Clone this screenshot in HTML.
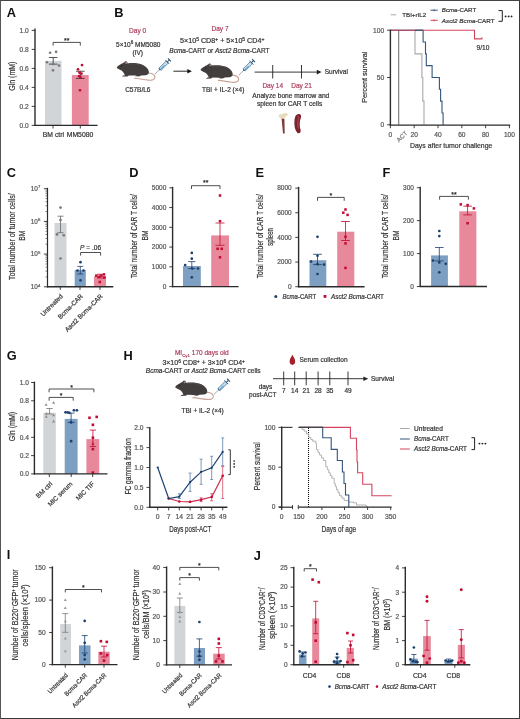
<!DOCTYPE html>
<html><head><meta charset="utf-8"><style>
html,body{margin:0;padding:0;background:#fff;}
#fig{position:relative;width:520px;height:719px;box-sizing:border-box;border:1px solid #3a3a3a;border-left-color:#555;border-top-color:#444;background:#fff;overflow:hidden;}
#fig svg{position:absolute;left:-1px;top:-1px;will-change:transform;}
text{font-family:"Liberation Sans",sans-serif;}
</style></head><body><div id="fig">
<svg width="520" height="719" viewBox="0 0 520 719">
<text transform="translate(6.80,16.80)" font-size="12.8" text-anchor="start" fill="#111" font-weight="bold">A</text>
<rect x="45.00" y="60.80" width="16.50" height="64.60" fill="#d2d5d8"/>
<rect x="71.90" y="75.05" width="16.80" height="50.35" fill="#e8899b"/>
<line x1="53.20" y1="57.48" x2="53.20" y2="64.12" stroke="#2b2b2b" stroke-width="0.8"/>
<line x1="48.90" y1="57.48" x2="57.50" y2="57.48" stroke="#2b2b2b" stroke-width="0.8"/>
<line x1="48.90" y1="64.12" x2="57.50" y2="64.12" stroke="#2b2b2b" stroke-width="0.8"/>
<line x1="80.30" y1="71.25" x2="80.30" y2="78.38" stroke="#2b2b2b" stroke-width="0.8"/>
<line x1="76.00" y1="71.25" x2="84.60" y2="71.25" stroke="#2b2b2b" stroke-width="0.8"/>
<line x1="76.00" y1="78.38" x2="84.60" y2="78.38" stroke="#2b2b2b" stroke-width="0.8"/>
<circle cx="50.10" cy="52.73" r="1.35" fill="#7a7a7a"/>
<circle cx="56.10" cy="51.78" r="1.35" fill="#7a7a7a"/>
<circle cx="47.00" cy="62.23" r="1.35" fill="#7a7a7a"/>
<circle cx="53.00" cy="64.12" r="1.35" fill="#7a7a7a"/>
<circle cx="59.00" cy="65.55" r="1.35" fill="#7a7a7a"/>
<circle cx="53.00" cy="70.30" r="1.35" fill="#7a7a7a"/>
<circle cx="82.00" cy="65.08" r="1.35" fill="#c20a32"/>
<circle cx="78.00" cy="69.35" r="1.35" fill="#c20a32"/>
<circle cx="79.50" cy="72.68" r="1.35" fill="#c20a32"/>
<circle cx="81.50" cy="73.62" r="1.35" fill="#c20a32"/>
<circle cx="79.00" cy="76.00" r="1.35" fill="#c20a32"/>
<circle cx="80.50" cy="77.43" r="1.35" fill="#c20a32"/>
<circle cx="80.00" cy="90.25" r="1.35" fill="#c20a32"/>
<line x1="35.00" y1="28.40" x2="35.00" y2="126.00" stroke="#2b2b2b" stroke-width="1.4"/>
<line x1="31.70" y1="30.40" x2="35.00" y2="30.40" stroke="#2b2b2b" stroke-width="0.9"/>
<text transform="translate(28.70,32.78)" font-size="6.6" text-anchor="end" fill="#555" stroke="#555" stroke-width="0.2">1.0</text>
<line x1="31.70" y1="49.40" x2="35.00" y2="49.40" stroke="#2b2b2b" stroke-width="0.9"/>
<text transform="translate(28.70,51.78)" font-size="6.6" text-anchor="end" fill="#555" stroke="#555" stroke-width="0.2">0.8</text>
<line x1="31.70" y1="68.40" x2="35.00" y2="68.40" stroke="#2b2b2b" stroke-width="0.9"/>
<text transform="translate(28.70,70.78)" font-size="6.6" text-anchor="end" fill="#555" stroke="#555" stroke-width="0.2">0.6</text>
<line x1="31.70" y1="87.40" x2="35.00" y2="87.40" stroke="#2b2b2b" stroke-width="0.9"/>
<text transform="translate(28.70,89.78)" font-size="6.6" text-anchor="end" fill="#555" stroke="#555" stroke-width="0.2">0.4</text>
<line x1="31.70" y1="106.40" x2="35.00" y2="106.40" stroke="#2b2b2b" stroke-width="0.9"/>
<text transform="translate(28.70,108.78)" font-size="6.6" text-anchor="end" fill="#555" stroke="#555" stroke-width="0.2">0.2</text>
<line x1="31.70" y1="125.40" x2="35.00" y2="125.40" stroke="#2b2b2b" stroke-width="0.9"/>
<text transform="translate(28.70,127.78)" font-size="6.6" text-anchor="end" fill="#555" stroke="#555" stroke-width="0.2">0.0</text>
<line x1="34.40" y1="125.40" x2="97.60" y2="125.40" stroke="#2b2b2b" stroke-width="1.4"/>
<line x1="53.00" y1="125.40" x2="53.00" y2="128.50" stroke="#2b2b2b" stroke-width="0.9"/>
<line x1="80.30" y1="125.40" x2="80.30" y2="128.50" stroke="#2b2b2b" stroke-width="0.9"/>
<path d="M53.10,45.60 L53.10,42.40 L80.30,42.40 L80.30,45.60" fill="none" stroke="#222" stroke-width="0.8"/>
<text transform="translate(66.70,42.99)" font-size="7" text-anchor="middle" fill="#222" stroke="#222" stroke-width="0.2">**</text>
<text transform="translate(14.77,76.20) rotate(-90)" font-size="8.4" text-anchor="middle" fill="#333" stroke="#333" stroke-width="0.2" textLength="29.3" lengthAdjust="spacingAndGlyphs">Gln (mM)</text>
<text transform="translate(53.40,137.15)" font-size="6.8" text-anchor="middle" fill="#333" stroke="#333" stroke-width="0.2">BM ctrl</text>
<text transform="translate(80.00,137.15)" font-size="6.8" text-anchor="middle" fill="#333" stroke="#333" stroke-width="0.2">MM5080</text>
<text transform="translate(114.20,17.00)" font-size="12.8" text-anchor="start" fill="#111" font-weight="bold">B</text>
<text transform="translate(137.60,32.74)" font-size="6.5" text-anchor="middle" fill="#ad3f5e" stroke="#ad3f5e" stroke-width="0.2">Day 0</text>
<text transform="translate(138.20,46.64)" font-size="6.5" text-anchor="middle" fill="#333" stroke="#333" stroke-width="0.2">5×10<tspan dy="-2.6" font-size="4.6">6</tspan><tspan dy="2.6"> MM5080</tspan></text>
<text transform="translate(137.80,54.54)" font-size="6.5" text-anchor="middle" fill="#333" stroke="#333" stroke-width="0.2">(IV)</text>
<g transform="translate(114.00,58.00)">
<path d="M33.5,15.0 C37.5,15.1 40.7,16.6 40.9,19.3 C41.1,21.6 38,22.6 34,22.1 C30,21.7 25,20.7 20.5,20.3" fill="none" stroke="#c9a197" stroke-width="1.1" stroke-linecap="round"/>
<path d="M2.9,9.4 C3.5,8.2 5.5,6.8 8,5.6 L10.2,4.4 C10.8,3.2 12.6,2.9 13.2,4.0 L13.8,5.4 C18,4.8 25,5.0 29,7.0 C32.5,8.8 34.8,11.5 34.9,14.0 C35,16 33.5,17 31.5,17.2 L27,17.4 C26,18.2 24.5,18.6 22.5,18.3 L21.5,17.6 L15,17.4 C14.2,17.8 13.6,18.4 12.4,18.5 L9.0,18.6 C8.2,18.5 8.4,17.8 9.2,17.6 L11.0,17.2 C10.5,15.8 9.6,14.4 8.4,13.2 C6.8,12.2 4.8,11.2 3.6,10.6 C3.0,10.3 2.7,9.9 2.9,9.4 Z" fill="#433e3e"/>
<path d="M14.2,6.2 C19,5.6 25,5.8 28.6,7.6" fill="none" stroke="#5a5454" stroke-width="0.8" opacity="0.7"/>
<ellipse cx="12.3" cy="5.0" rx="1.0" ry="0.9" fill="#b09a9a" opacity="0.9"/>
<circle cx="7.4" cy="7.9" r="0.55" fill="#111"/>
<path d="M9.0,18.6 L8.0,18.7 M22.5,18.3 L21.4,18.6" stroke="#c9a197" stroke-width="0.7"/>
</g>
<g transform="translate(154.80,74.30) rotate(-44.5)">
<line x1="0" y1="0" x2="6.3" y2="0" stroke="#56708a" stroke-width="0.55"/>
<path d="M6.3,-0.6 L7.4,-1.7 L7.4,1.7 L6.3,0.6 Z" fill="#2a4a6a"/>
<rect x="7.4" y="-1.5" width="10" height="3.0" fill="#bfe0f2" stroke="#2b4d6e" stroke-width="0.55"/>
<rect x="7.65" y="-0.1" width="5.5" height="1.35" fill="#6aa6cf"/>
<line x1="17.6" y1="-2.7" x2="17.6" y2="2.7" stroke="#27496b" stroke-width="0.8"/>
<line x1="17.6" y1="0" x2="20.4" y2="0" stroke="#27496b" stroke-width="1.0"/>
<line x1="20.6" y1="-2.1" x2="20.6" y2="2.1" stroke="#27496b" stroke-width="1.0"/>
</g>
<text transform="translate(137.80,91.64)" font-size="6.5" text-anchor="middle" fill="#333" stroke="#333" stroke-width="0.2">C57B/L6</text>
<line x1="173.40" y1="71.20" x2="188.50" y2="71.20" stroke="#111" stroke-width="0.9"/>
<path d="M191.8,71.2 L187.4,69.0 L187.4,73.4 Z" fill="#111" stroke="none" stroke-width="1.0"/>
<text transform="translate(220.00,30.94)" font-size="6.5" text-anchor="middle" fill="#ad3f5e" stroke="#ad3f5e" stroke-width="0.2">Day 7</text>
<text transform="translate(222.20,43.44)" font-size="6.5" text-anchor="middle" fill="#333" stroke="#333" stroke-width="0.2" textLength="84.3" lengthAdjust="spacingAndGlyphs">5×10<tspan dy="-2.6" font-size="4.6">5</tspan><tspan dy="2.6"> CD8</tspan><tspan dy="-2.6" font-size="4.6">+</tspan><tspan dy="2.6"> + 5×10</tspan><tspan dy="-2.6" font-size="4.6">5</tspan><tspan dy="2.6"> CD4</tspan><tspan dy="-2.6" font-size="4.6">+</tspan><tspan dy="2.6"></tspan></text>
<text transform="translate(219.40,52.64)" font-size="6.5" text-anchor="middle" fill="#333" stroke="#333" stroke-width="0.2"><tspan font-style="italic">Bcma</tspan>-CART or <tspan font-style="italic">Asct2 Bcma</tspan>-CART</text>
<g transform="translate(197.80,60.10)">
<path d="M33.5,15.0 C37.5,15.1 40.7,16.6 40.9,19.3 C41.1,21.6 38,22.6 34,22.1 C30,21.7 25,20.7 20.5,20.3" fill="none" stroke="#c9a197" stroke-width="1.1" stroke-linecap="round"/>
<path d="M2.9,9.4 C3.5,8.2 5.5,6.8 8,5.6 L10.2,4.4 C10.8,3.2 12.6,2.9 13.2,4.0 L13.8,5.4 C18,4.8 25,5.0 29,7.0 C32.5,8.8 34.8,11.5 34.9,14.0 C35,16 33.5,17 31.5,17.2 L27,17.4 C26,18.2 24.5,18.6 22.5,18.3 L21.5,17.6 L15,17.4 C14.2,17.8 13.6,18.4 12.4,18.5 L9.0,18.6 C8.2,18.5 8.4,17.8 9.2,17.6 L11.0,17.2 C10.5,15.8 9.6,14.4 8.4,13.2 C6.8,12.2 4.8,11.2 3.6,10.6 C3.0,10.3 2.7,9.9 2.9,9.4 Z" fill="#433e3e"/>
<path d="M14.2,6.2 C19,5.6 25,5.8 28.6,7.6" fill="none" stroke="#5a5454" stroke-width="0.8" opacity="0.7"/>
<ellipse cx="12.3" cy="5.0" rx="1.0" ry="0.9" fill="#b09a9a" opacity="0.9"/>
<circle cx="7.4" cy="7.9" r="0.55" fill="#111"/>
<path d="M9.0,18.6 L8.0,18.7 M22.5,18.3 L21.4,18.6" stroke="#c9a197" stroke-width="0.7"/>
</g>
<g transform="translate(238.90,75.00) rotate(-44.5)">
<line x1="0" y1="0" x2="6.3" y2="0" stroke="#56708a" stroke-width="0.55"/>
<path d="M6.3,-0.6 L7.4,-1.7 L7.4,1.7 L6.3,0.6 Z" fill="#2a4a6a"/>
<rect x="7.4" y="-1.5" width="10" height="3.0" fill="#bfe0f2" stroke="#2b4d6e" stroke-width="0.55"/>
<rect x="7.65" y="-0.1" width="5.5" height="1.35" fill="#6aa6cf"/>
<line x1="17.6" y1="-2.7" x2="17.6" y2="2.7" stroke="#27496b" stroke-width="0.8"/>
<line x1="17.6" y1="0" x2="20.4" y2="0" stroke="#27496b" stroke-width="1.0"/>
<line x1="20.6" y1="-2.1" x2="20.6" y2="2.1" stroke="#27496b" stroke-width="1.0"/>
</g>
<text transform="translate(223.20,92.04)" font-size="6.5" text-anchor="middle" fill="#333" stroke="#333" stroke-width="0.2">TBI + IL-2 (×4)</text>
<line x1="254.60" y1="72.10" x2="318.00" y2="72.10" stroke="#222" stroke-width="0.9"/>
<path d="M321.5,72.1 L316.8,69.8 L316.8,74.4 Z" fill="#222" stroke="none" stroke-width="1.0"/>
<line x1="272.70" y1="65.00" x2="272.70" y2="78.50" stroke="#222" stroke-width="0.9"/>
<line x1="301.50" y1="65.00" x2="301.50" y2="78.50" stroke="#222" stroke-width="0.9"/>
<text transform="translate(336.30,74.34)" font-size="6.5" text-anchor="middle" fill="#333" stroke="#333" stroke-width="0.2">Survival</text>
<text transform="translate(272.70,87.94)" font-size="6.5" text-anchor="middle" fill="#ad3f5e" stroke="#ad3f5e" stroke-width="0.2">Day 14</text>
<text transform="translate(301.50,87.94)" font-size="6.5" text-anchor="middle" fill="#ad3f5e" stroke="#ad3f5e" stroke-width="0.2">Day 21</text>
<text transform="translate(290.80,97.94)" font-size="6.5" text-anchor="middle" fill="#333" stroke="#333" stroke-width="0.2" textLength="77" lengthAdjust="spacingAndGlyphs">Analyze bone marrow and</text>
<text transform="translate(289.60,106.24)" font-size="6.5" text-anchor="middle" fill="#333" stroke="#333" stroke-width="0.2" textLength="65.3" lengthAdjust="spacingAndGlyphs">spleen for CAR T cells</text>
<path d="M281.3,118.8 C280.0,117.8 278.3,117.0 278.8,115.4 C279.4,113.9 281.2,114.4 282.4,114.0 C283.8,113.0 285.8,112.6 287.3,113.4 C288.6,114.4 287.4,116.0 285.9,116.5 C284.9,117.2 284.5,118.4 284.3,119.6 Z" fill="#e8dcbc" stroke="none" stroke-width="1.0"/>
<path d="M281.6,118.4 L284.4,118.9 L284.7,133.4 L283.0,133.6 Z" fill="#7d3a38" stroke="none" stroke-width="1.0"/>
<path d="M297.6,114.2 C300.6,113.4 301.8,115.5 300.8,118.0 C299.4,121.5 299.4,126.0 300.6,130.0 C301.2,132.8 299.0,134.2 297.3,132.7 C295.0,130.3 294.2,126.0 294.4,121.5 C294.6,117.5 295.5,114.8 297.6,114.2 Z" fill="#7f2230" stroke="none" stroke-width="1.0"/>
<path d="M297.3,116.2 C298.6,115.8 299.0,117.2 298.4,118.7 C297.6,121.6 297.6,125.0 298.4,128.5" fill="none" stroke="#c0606e" stroke-width="0.7"/>
<polyline fill="none" stroke="#a9a9a9" stroke-width="1.1" stroke-linejoin="miter" points="390.40,30.20 415.00,30.20 415.00,53.85 421.90,53.85 421.90,77.50 422.80,77.50 422.80,101.15 424.00,101.15 424.00,124.80"/>
<polyline fill="none" stroke="#34557c" stroke-width="1.1" stroke-linejoin="miter" points="390.40,30.20 423.10,30.20 423.10,42.03 425.50,42.03 425.50,53.85 426.30,53.85 426.30,65.67 432.10,65.67 432.10,77.50 439.40,77.50 439.40,89.32 440.60,89.32 440.60,101.15 442.00,101.15 442.00,112.97 443.10,112.97 443.10,124.80"/>
<polyline fill="none" stroke="#d3455f" stroke-width="1.1" stroke-linejoin="miter" points="390.40,30.20 474.50,30.20 474.50,38.90 481.90,38.90 481.90,37.30"/>
<line x1="415.00" y1="30.20" x2="423.10" y2="30.20" stroke="#34557c" stroke-width="1.1"/>
<line x1="398.73" y1="30.20" x2="398.73" y2="124.80" stroke="#555" stroke-width="0.9"/>
<line x1="390.40" y1="29.60" x2="390.40" y2="125.40" stroke="#2b2b2b" stroke-width="1.4"/>
<line x1="387.10" y1="30.20" x2="390.40" y2="30.20" stroke="#2b2b2b" stroke-width="0.9"/>
<text transform="translate(384.10,32.58)" font-size="6.6" text-anchor="end" fill="#555" stroke="#555" stroke-width="0.2">100</text>
<line x1="387.10" y1="77.50" x2="390.40" y2="77.50" stroke="#2b2b2b" stroke-width="0.9"/>
<text transform="translate(384.10,79.88)" font-size="6.6" text-anchor="end" fill="#555" stroke="#555" stroke-width="0.2">50</text>
<line x1="387.10" y1="124.80" x2="390.40" y2="124.80" stroke="#2b2b2b" stroke-width="0.9"/>
<text transform="translate(384.10,127.18)" font-size="6.6" text-anchor="end" fill="#555" stroke="#555" stroke-width="0.2">0</text>
<line x1="389.80" y1="125.10" x2="510.20" y2="125.10" stroke="#2b2b2b" stroke-width="1.4"/>
<line x1="390.40" y1="125.10" x2="390.40" y2="128.20" stroke="#2b2b2b" stroke-width="0.9"/>
<line x1="414.20" y1="125.10" x2="414.20" y2="128.20" stroke="#2b2b2b" stroke-width="0.9"/>
<line x1="438.00" y1="125.10" x2="438.00" y2="128.20" stroke="#2b2b2b" stroke-width="0.9"/>
<line x1="461.80" y1="125.10" x2="461.80" y2="128.20" stroke="#2b2b2b" stroke-width="0.9"/>
<line x1="485.60" y1="125.10" x2="485.60" y2="128.20" stroke="#2b2b2b" stroke-width="0.9"/>
<line x1="509.40" y1="125.10" x2="509.40" y2="128.20" stroke="#2b2b2b" stroke-width="0.9"/>
<text transform="translate(390.40,137.18)" font-size="6.6" text-anchor="middle" fill="#555" stroke="#555" stroke-width="0.2">0</text>
<text transform="translate(414.20,137.18)" font-size="6.6" text-anchor="middle" fill="#555" stroke="#555" stroke-width="0.2">20</text>
<text transform="translate(438.00,137.18)" font-size="6.6" text-anchor="middle" fill="#555" stroke="#555" stroke-width="0.2">40</text>
<text transform="translate(461.80,137.18)" font-size="6.6" text-anchor="middle" fill="#555" stroke="#555" stroke-width="0.2">60</text>
<text transform="translate(485.60,137.18)" font-size="6.6" text-anchor="middle" fill="#555" stroke="#555" stroke-width="0.2">80</text>
<text transform="translate(509.40,137.18)" font-size="6.6" text-anchor="middle" fill="#555" stroke="#555" stroke-width="0.2">100</text>
<text transform="translate(403.50,138.00) rotate(-45)" font-size="6.2" text-anchor="middle" fill="#777" stroke="#777" stroke-width="0.2">ACT</text>
<text transform="translate(451.20,148.39)" font-size="7.2" text-anchor="middle" fill="#333" stroke="#333" stroke-width="0.2" textLength="82.3" lengthAdjust="spacingAndGlyphs">Days after tumor challenge</text>
<text transform="translate(366.89,77.30) rotate(-90)" font-size="7.2" text-anchor="middle" fill="#333" stroke="#333" stroke-width="0.2">Percent survival</text>
<text transform="translate(483.00,50.08)" font-size="6.6" text-anchor="middle" fill="#333" stroke="#333" stroke-width="0.2">9/10</text>
<line x1="390.80" y1="14.80" x2="396.20" y2="14.80" stroke="#a9a9a9" stroke-width="1.0"/>
<text transform="translate(414.20,17.03)" font-size="6.2" text-anchor="middle" fill="#333" stroke="#333" stroke-width="0.2">TBI+rIL2</text>
<line x1="430.50" y1="10.20" x2="437.80" y2="10.20" stroke="#34557c" stroke-width="1.0"/>
<line x1="434.10" y1="9.00" x2="434.10" y2="11.40" stroke="#34557c" stroke-width="0.7"/>
<text transform="translate(441.80,12.43)" font-size="6.2" text-anchor="start" fill="#333" stroke="#333" stroke-width="0.2" textLength="34.4" lengthAdjust="spacingAndGlyphs"><tspan font-style="italic">Bcma</tspan>-CART</text>
<line x1="430.50" y1="20.30" x2="437.80" y2="20.30" stroke="#d3455f" stroke-width="1.0"/>
<line x1="434.10" y1="19.10" x2="434.10" y2="21.50" stroke="#d3455f" stroke-width="0.7"/>
<text transform="translate(441.80,22.53)" font-size="6.2" text-anchor="start" fill="#333" stroke="#333" stroke-width="0.2" textLength="52.7" lengthAdjust="spacingAndGlyphs"><tspan font-style="italic">Asct2 Bcma</tspan>-CART</text>
<path d="M498.5,10.6 L502.3,10.6 L502.3,21.3 L498.5,21.3" fill="none" stroke="#222" stroke-width="1.0"/>
<circle cx="505.60" cy="16.40" r="0.95" fill="#222"/>
<circle cx="508.60" cy="16.40" r="0.95" fill="#222"/>
<circle cx="511.50" cy="16.40" r="0.95" fill="#222"/>
<text transform="translate(6.80,177.20)" font-size="12.8" text-anchor="start" fill="#111" font-weight="bold">C</text>
<rect x="54.50" y="223.00" width="12.00" height="63.80" fill="#d2d5d8"/>
<rect x="74.70" y="270.10" width="11.10" height="16.70" fill="#7c9fc2"/>
<rect x="94.00" y="276.00" width="12.00" height="10.80" fill="#e8899b"/>
<line x1="60.50" y1="216.20" x2="60.50" y2="232.70" stroke="#666" stroke-width="0.8"/>
<line x1="57.50" y1="216.20" x2="63.50" y2="216.20" stroke="#666" stroke-width="0.8"/>
<line x1="57.50" y1="232.70" x2="63.50" y2="232.70" stroke="#666" stroke-width="0.8"/>
<line x1="80.30" y1="266.40" x2="80.30" y2="274.00" stroke="#1d3f6e" stroke-width="0.8"/>
<line x1="77.30" y1="266.40" x2="83.30" y2="266.40" stroke="#1d3f6e" stroke-width="0.8"/>
<line x1="77.30" y1="274.00" x2="83.30" y2="274.00" stroke="#1d3f6e" stroke-width="0.8"/>
<line x1="100.00" y1="274.30" x2="100.00" y2="278.00" stroke="#c20a32" stroke-width="0.8"/>
<line x1="97.00" y1="274.30" x2="103.00" y2="274.30" stroke="#c20a32" stroke-width="0.8"/>
<line x1="97.00" y1="278.00" x2="103.00" y2="278.00" stroke="#c20a32" stroke-width="0.8"/>
<circle cx="60.50" cy="207.60" r="1.35" fill="#7a7a7a"/>
<circle cx="60.50" cy="220.10" r="1.35" fill="#7a7a7a"/>
<circle cx="57.00" cy="234.40" r="1.35" fill="#7a7a7a"/>
<circle cx="63.80" cy="235.30" r="1.35" fill="#7a7a7a"/>
<circle cx="60.50" cy="258.50" r="1.35" fill="#7a7a7a"/>
<circle cx="80.50" cy="262.20" r="1.35" fill="#1d3f6e"/>
<circle cx="77.50" cy="270.50" r="1.35" fill="#1d3f6e"/>
<circle cx="83.50" cy="270.50" r="1.35" fill="#1d3f6e"/>
<circle cx="80.50" cy="280.30" r="1.35" fill="#1d3f6e"/>
<rect x="95.05" y="274.35" width="2.5" height="2.5" fill="#c20a32"/>
<rect x="97.55" y="275.55" width="2.5" height="2.5" fill="#c20a32"/>
<rect x="100.15" y="274.35" width="2.5" height="2.5" fill="#c20a32"/>
<rect x="102.75" y="273.15" width="2.5" height="2.5" fill="#c20a32"/>
<rect x="103.05" y="276.35" width="2.5" height="2.5" fill="#c20a32"/>
<rect x="98.55" y="280.75" width="2.5" height="2.5" fill="#c20a32"/>
<line x1="47.50" y1="187.80" x2="47.50" y2="287.40" stroke="#2b2b2b" stroke-width="1.2"/>
<line x1="45.50" y1="276.96" x2="47.50" y2="276.96" stroke="#2b2b2b" stroke-width="0.6"/>
<line x1="45.50" y1="271.20" x2="47.50" y2="271.20" stroke="#2b2b2b" stroke-width="0.6"/>
<line x1="45.50" y1="267.11" x2="47.50" y2="267.11" stroke="#2b2b2b" stroke-width="0.6"/>
<line x1="45.50" y1="263.94" x2="47.50" y2="263.94" stroke="#2b2b2b" stroke-width="0.6"/>
<line x1="45.50" y1="261.35" x2="47.50" y2="261.35" stroke="#2b2b2b" stroke-width="0.6"/>
<line x1="45.50" y1="259.17" x2="47.50" y2="259.17" stroke="#2b2b2b" stroke-width="0.6"/>
<line x1="45.50" y1="257.27" x2="47.50" y2="257.27" stroke="#2b2b2b" stroke-width="0.6"/>
<line x1="45.50" y1="255.60" x2="47.50" y2="255.60" stroke="#2b2b2b" stroke-width="0.6"/>
<line x1="45.50" y1="244.26" x2="47.50" y2="244.26" stroke="#2b2b2b" stroke-width="0.6"/>
<line x1="45.50" y1="238.50" x2="47.50" y2="238.50" stroke="#2b2b2b" stroke-width="0.6"/>
<line x1="45.50" y1="234.41" x2="47.50" y2="234.41" stroke="#2b2b2b" stroke-width="0.6"/>
<line x1="45.50" y1="231.24" x2="47.50" y2="231.24" stroke="#2b2b2b" stroke-width="0.6"/>
<line x1="45.50" y1="228.65" x2="47.50" y2="228.65" stroke="#2b2b2b" stroke-width="0.6"/>
<line x1="45.50" y1="226.47" x2="47.50" y2="226.47" stroke="#2b2b2b" stroke-width="0.6"/>
<line x1="45.50" y1="224.57" x2="47.50" y2="224.57" stroke="#2b2b2b" stroke-width="0.6"/>
<line x1="45.50" y1="222.90" x2="47.50" y2="222.90" stroke="#2b2b2b" stroke-width="0.6"/>
<line x1="45.50" y1="211.56" x2="47.50" y2="211.56" stroke="#2b2b2b" stroke-width="0.6"/>
<line x1="45.50" y1="205.80" x2="47.50" y2="205.80" stroke="#2b2b2b" stroke-width="0.6"/>
<line x1="45.50" y1="201.71" x2="47.50" y2="201.71" stroke="#2b2b2b" stroke-width="0.6"/>
<line x1="45.50" y1="198.54" x2="47.50" y2="198.54" stroke="#2b2b2b" stroke-width="0.6"/>
<line x1="45.50" y1="195.95" x2="47.50" y2="195.95" stroke="#2b2b2b" stroke-width="0.6"/>
<line x1="45.50" y1="193.77" x2="47.50" y2="193.77" stroke="#2b2b2b" stroke-width="0.6"/>
<line x1="45.50" y1="191.87" x2="47.50" y2="191.87" stroke="#2b2b2b" stroke-width="0.6"/>
<line x1="45.50" y1="190.20" x2="47.50" y2="190.20" stroke="#2b2b2b" stroke-width="0.6"/>
<line x1="43.90" y1="286.80" x2="47.50" y2="286.80" stroke="#2b2b2b" stroke-width="0.9"/>
<text transform="translate(40.30,289.10)" font-size="6.4" text-anchor="end" fill="#555" stroke="#555" stroke-width="0.2">10<tspan dy="-2.6" font-size="4.3">4</tspan><tspan dy="2.6"></tspan></text>
<line x1="43.90" y1="254.10" x2="47.50" y2="254.10" stroke="#2b2b2b" stroke-width="0.9"/>
<text transform="translate(40.30,256.40)" font-size="6.4" text-anchor="end" fill="#555" stroke="#555" stroke-width="0.2">10<tspan dy="-2.6" font-size="4.3">5</tspan><tspan dy="2.6"></tspan></text>
<line x1="43.90" y1="221.40" x2="47.50" y2="221.40" stroke="#2b2b2b" stroke-width="0.9"/>
<text transform="translate(40.30,223.70)" font-size="6.4" text-anchor="end" fill="#555" stroke="#555" stroke-width="0.2">10<tspan dy="-2.6" font-size="4.3">6</tspan><tspan dy="2.6"></tspan></text>
<line x1="43.90" y1="188.70" x2="47.50" y2="188.70" stroke="#2b2b2b" stroke-width="0.9"/>
<text transform="translate(40.30,191.00)" font-size="6.4" text-anchor="end" fill="#555" stroke="#555" stroke-width="0.2">10<tspan dy="-2.6" font-size="4.3">7</tspan><tspan dy="2.6"></tspan></text>
<line x1="46.90" y1="286.80" x2="113.30" y2="286.80" stroke="#2b2b2b" stroke-width="1.4"/>
<line x1="60.30" y1="286.80" x2="60.30" y2="289.90" stroke="#2b2b2b" stroke-width="0.9"/>
<line x1="80.00" y1="286.80" x2="80.00" y2="289.90" stroke="#2b2b2b" stroke-width="0.9"/>
<line x1="100.00" y1="286.80" x2="100.00" y2="289.90" stroke="#2b2b2b" stroke-width="0.9"/>
<path d="M80.60,255.60 L80.60,252.50 L100.60,252.50 L100.60,255.60" fill="none" stroke="#222" stroke-width="0.8"/>
<text transform="translate(90.60,249.78)" font-size="6.6" text-anchor="middle" fill="#333" stroke="#333" stroke-width="0.2"><tspan font-style="italic">P</tspan> = .06</text>
<text transform="translate(14.54,236.70) rotate(-90)" font-size="9.0" text-anchor="middle" fill="#333" stroke="#333" stroke-width="0.2" textLength="86.7" lengthAdjust="spacingAndGlyphs">Total number of tumor cells/</text>
<text transform="translate(24.74,235.80) rotate(-90)" font-size="9.0" text-anchor="middle" fill="#333" stroke="#333" stroke-width="0.2" textLength="10" lengthAdjust="spacingAndGlyphs">BM</text>
<text transform="translate(63.40,296.60) rotate(-45)" font-size="6.5" text-anchor="end" fill="#333" stroke="#333" stroke-width="0.2">Untreated</text>
<text transform="translate(83.40,296.60) rotate(-45)" font-size="6.5" text-anchor="end" fill="#333" stroke="#333" stroke-width="0.2">Bcma-CAR</text>
<text transform="translate(103.20,296.60) rotate(-45)" font-size="6.5" text-anchor="end" fill="#333" stroke="#333" stroke-width="0.2">Asct2 Bcma-CAR</text>
<text transform="translate(129.20,177.20)" font-size="12.8" text-anchor="start" fill="#111" font-weight="bold">D</text>
<rect x="183.00" y="266.00" width="17.80" height="20.60" fill="#7c9fc2"/>
<rect x="211.20" y="235.40" width="17.80" height="51.20" fill="#e8899b"/>
<line x1="191.80" y1="261.60" x2="191.80" y2="268.50" stroke="#1d3f6e" stroke-width="0.8"/>
<line x1="188.20" y1="261.60" x2="195.40" y2="261.60" stroke="#1d3f6e" stroke-width="0.8"/>
<line x1="188.20" y1="268.50" x2="195.40" y2="268.50" stroke="#1d3f6e" stroke-width="0.8"/>
<line x1="220.00" y1="223.00" x2="220.00" y2="245.30" stroke="#c20a32" stroke-width="0.8"/>
<line x1="215.50" y1="223.00" x2="224.50" y2="223.00" stroke="#c20a32" stroke-width="0.8"/>
<line x1="215.50" y1="245.30" x2="224.50" y2="245.30" stroke="#c20a32" stroke-width="0.8"/>
<circle cx="191.80" cy="252.90" r="1.35" fill="#1d3f6e"/>
<circle cx="191.80" cy="258.70" r="1.35" fill="#1d3f6e"/>
<circle cx="185.20" cy="265.00" r="1.35" fill="#1d3f6e"/>
<circle cx="192.20" cy="268.50" r="1.35" fill="#1d3f6e"/>
<circle cx="198.00" cy="268.50" r="1.35" fill="#1d3f6e"/>
<circle cx="191.80" cy="277.30" r="1.35" fill="#1d3f6e"/>
<rect x="218.75" y="194.25" width="2.5" height="2.5" fill="#c20a32"/>
<rect x="218.75" y="219.95" width="2.5" height="2.5" fill="#c20a32"/>
<rect x="216.35" y="247.55" width="2.5" height="2.5" fill="#c20a32"/>
<rect x="220.45" y="247.55" width="2.5" height="2.5" fill="#c20a32"/>
<rect x="218.75" y="256.05" width="2.5" height="2.5" fill="#c20a32"/>
<line x1="172.60" y1="186.80" x2="172.60" y2="287.20" stroke="#2b2b2b" stroke-width="1.4"/>
<line x1="169.30" y1="187.80" x2="172.60" y2="187.80" stroke="#2b2b2b" stroke-width="0.9"/>
<text transform="translate(166.30,190.14)" font-size="6.5" text-anchor="end" fill="#555" stroke="#555" stroke-width="0.2">5000</text>
<line x1="169.30" y1="207.56" x2="172.60" y2="207.56" stroke="#2b2b2b" stroke-width="0.9"/>
<text transform="translate(166.30,209.90)" font-size="6.5" text-anchor="end" fill="#555" stroke="#555" stroke-width="0.2">4000</text>
<line x1="169.30" y1="227.32" x2="172.60" y2="227.32" stroke="#2b2b2b" stroke-width="0.9"/>
<text transform="translate(166.30,229.66)" font-size="6.5" text-anchor="end" fill="#555" stroke="#555" stroke-width="0.2">3000</text>
<line x1="169.30" y1="247.08" x2="172.60" y2="247.08" stroke="#2b2b2b" stroke-width="0.9"/>
<text transform="translate(166.30,249.42)" font-size="6.5" text-anchor="end" fill="#555" stroke="#555" stroke-width="0.2">2000</text>
<line x1="169.30" y1="266.84" x2="172.60" y2="266.84" stroke="#2b2b2b" stroke-width="0.9"/>
<text transform="translate(166.30,269.18)" font-size="6.5" text-anchor="end" fill="#555" stroke="#555" stroke-width="0.2">1000</text>
<line x1="169.30" y1="286.60" x2="172.60" y2="286.60" stroke="#2b2b2b" stroke-width="0.9"/>
<text transform="translate(166.30,288.94)" font-size="6.5" text-anchor="end" fill="#555" stroke="#555" stroke-width="0.2">0</text>
<line x1="172.00" y1="286.60" x2="238.60" y2="286.60" stroke="#2b2b2b" stroke-width="1.4"/>
<path d="M191.50,189.00 L191.50,185.70 L220.00,185.70 L220.00,189.00" fill="none" stroke="#222" stroke-width="0.8"/>
<text transform="translate(205.75,185.49)" font-size="7" text-anchor="middle" fill="#222" stroke="#222" stroke-width="0.2">**</text>
<text transform="translate(136.71,236.20) rotate(-90)" font-size="9.2" text-anchor="middle" fill="#333" stroke="#333" stroke-width="0.2" textLength="84.3" lengthAdjust="spacingAndGlyphs">Total number of CAR T cells/</text>
<text transform="translate(147.64,235.40) rotate(-90)" font-size="9.0" text-anchor="middle" fill="#333" stroke="#333" stroke-width="0.2" textLength="10" lengthAdjust="spacingAndGlyphs">BM</text>
<text transform="translate(255.60,177.20)" font-size="12.8" text-anchor="start" fill="#111" font-weight="bold">E</text>
<rect x="309.50" y="260.20" width="16.80" height="26.50" fill="#7c9fc2"/>
<rect x="337.20" y="231.70" width="17.10" height="55.00" fill="#e8899b"/>
<line x1="317.50" y1="254.30" x2="317.50" y2="264.60" stroke="#1d3f6e" stroke-width="0.8"/>
<line x1="313.10" y1="254.30" x2="321.90" y2="254.30" stroke="#1d3f6e" stroke-width="0.8"/>
<line x1="313.10" y1="264.60" x2="321.90" y2="264.60" stroke="#1d3f6e" stroke-width="0.8"/>
<line x1="345.50" y1="221.50" x2="345.50" y2="240.50" stroke="#c20a32" stroke-width="0.8"/>
<line x1="341.10" y1="221.50" x2="349.90" y2="221.50" stroke="#c20a32" stroke-width="0.8"/>
<line x1="341.10" y1="240.50" x2="349.90" y2="240.50" stroke="#c20a32" stroke-width="0.8"/>
<circle cx="317.50" cy="236.80" r="1.35" fill="#1d3f6e"/>
<circle cx="317.50" cy="255.80" r="1.35" fill="#1d3f6e"/>
<circle cx="311.00" cy="261.60" r="1.35" fill="#1d3f6e"/>
<circle cx="324.10" cy="264.60" r="1.35" fill="#1d3f6e"/>
<circle cx="317.50" cy="264.20" r="1.35" fill="#1d3f6e"/>
<circle cx="317.50" cy="274.00" r="1.35" fill="#1d3f6e"/>
<rect x="344.25" y="208.25" width="2.5" height="2.5" fill="#c20a32"/>
<rect x="342.05" y="211.45" width="2.5" height="2.5" fill="#c20a32"/>
<rect x="346.35" y="213.65" width="2.5" height="2.5" fill="#c20a32"/>
<rect x="344.25" y="235.55" width="2.5" height="2.5" fill="#c20a32"/>
<rect x="344.25" y="242.15" width="2.5" height="2.5" fill="#c20a32"/>
<rect x="344.25" y="266.65" width="2.5" height="2.5" fill="#c20a32"/>
<line x1="298.60" y1="186.80" x2="298.60" y2="287.30" stroke="#2b2b2b" stroke-width="1.4"/>
<line x1="295.30" y1="188.10" x2="298.60" y2="188.10" stroke="#2b2b2b" stroke-width="0.9"/>
<text transform="translate(291.70,190.44)" font-size="6.5" text-anchor="end" fill="#555" stroke="#555" stroke-width="0.2">8000</text>
<line x1="295.30" y1="212.75" x2="298.60" y2="212.75" stroke="#2b2b2b" stroke-width="0.9"/>
<text transform="translate(291.70,215.09)" font-size="6.5" text-anchor="end" fill="#555" stroke="#555" stroke-width="0.2">6000</text>
<line x1="295.30" y1="237.40" x2="298.60" y2="237.40" stroke="#2b2b2b" stroke-width="0.9"/>
<text transform="translate(291.70,239.74)" font-size="6.5" text-anchor="end" fill="#555" stroke="#555" stroke-width="0.2">4000</text>
<line x1="295.30" y1="262.05" x2="298.60" y2="262.05" stroke="#2b2b2b" stroke-width="0.9"/>
<text transform="translate(291.70,264.39)" font-size="6.5" text-anchor="end" fill="#555" stroke="#555" stroke-width="0.2">2000</text>
<line x1="295.30" y1="286.70" x2="298.60" y2="286.70" stroke="#2b2b2b" stroke-width="0.9"/>
<text transform="translate(291.70,289.04)" font-size="6.5" text-anchor="end" fill="#555" stroke="#555" stroke-width="0.2">0</text>
<line x1="298.00" y1="286.70" x2="364.60" y2="286.70" stroke="#2b2b2b" stroke-width="1.4"/>
<path d="M317.50,200.80 L317.50,197.40 L344.20,197.40 L344.20,200.80" fill="none" stroke="#222" stroke-width="0.8"/>
<text transform="translate(330.85,197.79)" font-size="7" text-anchor="middle" fill="#222" stroke="#222" stroke-width="0.2">*</text>
<text transform="translate(262.71,236.20) rotate(-90)" font-size="9.2" text-anchor="middle" fill="#333" stroke="#333" stroke-width="0.2" textLength="84.1" lengthAdjust="spacingAndGlyphs">Total number of CAR T cells/</text>
<text transform="translate(272.54,237.00) rotate(-90)" font-size="9.0" text-anchor="middle" fill="#333" stroke="#333" stroke-width="0.2" textLength="17.5" lengthAdjust="spacingAndGlyphs">spleen</text>
<circle cx="275.80" cy="296.40" r="1.5" fill="#1d3f6e"/>
<text transform="translate(282.60,298.70)" font-size="6.4" text-anchor="start" fill="#333" stroke="#333" stroke-width="0.2" textLength="33.6" lengthAdjust="spacingAndGlyphs"><tspan font-style="italic">Bcma</tspan>-CART</text>
<rect x="323.60" y="295.00" width="2.8" height="2.8" fill="#c20a32"/>
<text transform="translate(331.00,298.70)" font-size="6.4" text-anchor="start" fill="#333" stroke="#333" stroke-width="0.2" textLength="53" lengthAdjust="spacingAndGlyphs"><tspan font-style="italic">Asct2 Bcma</tspan>-CART</text>
<text transform="translate(382.40,177.20)" font-size="12.8" text-anchor="start" fill="#111" font-weight="bold">F</text>
<rect x="431.10" y="255.40" width="16.80" height="31.10" fill="#7c9fc2"/>
<rect x="459.30" y="211.30" width="17.10" height="75.20" fill="#e8899b"/>
<line x1="439.30" y1="247.50" x2="439.30" y2="260.90" stroke="#1d3f6e" stroke-width="0.8"/>
<line x1="435.00" y1="247.50" x2="443.60" y2="247.50" stroke="#1d3f6e" stroke-width="0.8"/>
<line x1="435.00" y1="260.90" x2="443.60" y2="260.90" stroke="#1d3f6e" stroke-width="0.8"/>
<line x1="467.60" y1="206.20" x2="467.60" y2="214.90" stroke="#c20a32" stroke-width="0.8"/>
<line x1="463.30" y1="206.20" x2="471.90" y2="206.20" stroke="#c20a32" stroke-width="0.8"/>
<line x1="463.30" y1="214.90" x2="471.90" y2="214.90" stroke="#c20a32" stroke-width="0.8"/>
<circle cx="439.30" cy="231.00" r="1.35" fill="#1d3f6e"/>
<circle cx="439.30" cy="236.10" r="1.35" fill="#1d3f6e"/>
<circle cx="433.00" cy="260.60" r="1.35" fill="#1d3f6e"/>
<circle cx="439.30" cy="262.40" r="1.35" fill="#1d3f6e"/>
<circle cx="445.70" cy="263.80" r="1.35" fill="#1d3f6e"/>
<circle cx="439.30" cy="272.30" r="1.35" fill="#1d3f6e"/>
<rect x="459.55" y="203.15" width="2.5" height="2.5" fill="#c20a32"/>
<rect x="466.35" y="203.85" width="2.5" height="2.5" fill="#c20a32"/>
<rect x="472.65" y="207.15" width="2.5" height="2.5" fill="#c20a32"/>
<rect x="466.35" y="221.95" width="2.5" height="2.5" fill="#c20a32"/>
<line x1="420.20" y1="186.80" x2="420.20" y2="287.10" stroke="#2b2b2b" stroke-width="1.4"/>
<line x1="416.90" y1="187.71" x2="420.20" y2="187.71" stroke="#2b2b2b" stroke-width="0.9"/>
<text transform="translate(413.90,190.05)" font-size="6.5" text-anchor="end" fill="#555" stroke="#555" stroke-width="0.2">300</text>
<line x1="416.90" y1="220.64" x2="420.20" y2="220.64" stroke="#2b2b2b" stroke-width="0.9"/>
<text transform="translate(413.90,222.98)" font-size="6.5" text-anchor="end" fill="#555" stroke="#555" stroke-width="0.2">200</text>
<line x1="416.90" y1="253.57" x2="420.20" y2="253.57" stroke="#2b2b2b" stroke-width="0.9"/>
<text transform="translate(413.90,255.91)" font-size="6.5" text-anchor="end" fill="#555" stroke="#555" stroke-width="0.2">100</text>
<line x1="416.90" y1="286.50" x2="420.20" y2="286.50" stroke="#2b2b2b" stroke-width="0.9"/>
<text transform="translate(413.90,288.84)" font-size="6.5" text-anchor="end" fill="#555" stroke="#555" stroke-width="0.2">0</text>
<line x1="419.60" y1="286.50" x2="487.00" y2="286.50" stroke="#2b2b2b" stroke-width="1.4"/>
<path d="M439.60,199.60 L439.60,196.40 L468.40,196.40 L468.40,199.60" fill="none" stroke="#222" stroke-width="0.8"/>
<text transform="translate(454.00,197.29)" font-size="7" text-anchor="middle" fill="#222" stroke="#222" stroke-width="0.2">**</text>
<text transform="translate(388.31,236.20) rotate(-90)" font-size="9.2" text-anchor="middle" fill="#333" stroke="#333" stroke-width="0.2" textLength="84.1" lengthAdjust="spacingAndGlyphs">Total number of CAR T cells/</text>
<text transform="translate(399.04,235.50) rotate(-90)" font-size="9.0" text-anchor="middle" fill="#333" stroke="#333" stroke-width="0.2" textLength="10" lengthAdjust="spacingAndGlyphs">BM</text>
<text transform="translate(6.80,360.00)" font-size="12.8" text-anchor="start" fill="#111" font-weight="bold">G</text>
<rect x="43.30" y="412.70" width="12.50" height="61.20" fill="#d2d5d8"/>
<rect x="64.70" y="418.90" width="12.90" height="55.00" fill="#7c9fc2"/>
<rect x="86.40" y="439.10" width="12.80" height="34.80" fill="#e8899b"/>
<line x1="49.50" y1="408.50" x2="49.50" y2="414.00" stroke="#777" stroke-width="0.8"/>
<line x1="46.30" y1="408.50" x2="52.70" y2="408.50" stroke="#777" stroke-width="0.8"/>
<line x1="46.30" y1="414.00" x2="52.70" y2="414.00" stroke="#777" stroke-width="0.8"/>
<line x1="71.10" y1="413.10" x2="71.10" y2="422.40" stroke="#1d3f6e" stroke-width="0.8"/>
<line x1="67.60" y1="413.10" x2="74.60" y2="413.10" stroke="#1d3f6e" stroke-width="0.8"/>
<line x1="67.60" y1="422.40" x2="74.60" y2="422.40" stroke="#1d3f6e" stroke-width="0.8"/>
<line x1="92.90" y1="430.10" x2="92.90" y2="446.50" stroke="#c20a32" stroke-width="0.8"/>
<line x1="89.70" y1="430.10" x2="96.10" y2="430.10" stroke="#c20a32" stroke-width="0.8"/>
<line x1="89.70" y1="446.50" x2="96.10" y2="446.50" stroke="#c20a32" stroke-width="0.8"/>
<path d="M46.10,402.88 L47.60,405.73 L44.60,405.73 Z" fill="#8c8c8c"/>
<path d="M53.60,400.88 L55.10,403.73 L52.10,403.73 Z" fill="#8c8c8c"/>
<path d="M46.30,411.97 L47.80,414.82 L44.80,414.82 Z" fill="#8c8c8c"/>
<path d="M53.60,413.38 L55.10,416.23 L52.10,416.23 Z" fill="#8c8c8c"/>
<path d="M46.30,414.97 L47.80,417.82 L44.80,417.82 Z" fill="#8c8c8c"/>
<path d="M53.60,419.57 L55.10,422.43 L52.10,422.43 Z" fill="#8c8c8c"/>
<circle cx="65.50" cy="412.30" r="1.35" fill="#1d3f6e"/>
<circle cx="67.50" cy="412.30" r="1.35" fill="#1d3f6e"/>
<circle cx="69.40" cy="412.80" r="1.35" fill="#1d3f6e"/>
<circle cx="73.90" cy="410.30" r="1.35" fill="#1d3f6e"/>
<circle cx="76.90" cy="410.30" r="1.35" fill="#1d3f6e"/>
<circle cx="71.10" cy="422.40" r="1.35" fill="#1d3f6e"/>
<circle cx="71.10" cy="441.20" r="1.35" fill="#1d3f6e"/>
<rect x="88.20" y="416.50" width="2.6" height="2.6" fill="#c20a32"/>
<rect x="95.40" y="415.60" width="2.6" height="2.6" fill="#c20a32"/>
<rect x="91.60" y="423.50" width="2.6" height="2.6" fill="#c20a32"/>
<rect x="91.60" y="436.40" width="2.6" height="2.6" fill="#c20a32"/>
<rect x="91.60" y="447.80" width="2.6" height="2.6" fill="#c20a32"/>
<rect x="91.60" y="471.30" width="2.6" height="2.6" fill="#c20a32"/>
<path d="M92.90,441.97 L94.30,444.63 L91.50,444.63 Z" fill="#c20a32"/>
<line x1="34.40" y1="381.60" x2="34.40" y2="474.50" stroke="#2b2b2b" stroke-width="1.4"/>
<line x1="31.10" y1="382.50" x2="34.40" y2="382.50" stroke="#2b2b2b" stroke-width="0.9"/>
<text transform="translate(28.80,384.88)" font-size="6.6" text-anchor="end" fill="#555" stroke="#555" stroke-width="0.2">1.0</text>
<line x1="31.10" y1="400.78" x2="34.40" y2="400.78" stroke="#2b2b2b" stroke-width="0.9"/>
<text transform="translate(28.80,403.16)" font-size="6.6" text-anchor="end" fill="#555" stroke="#555" stroke-width="0.2">0.8</text>
<line x1="31.10" y1="419.06" x2="34.40" y2="419.06" stroke="#2b2b2b" stroke-width="0.9"/>
<text transform="translate(28.80,421.44)" font-size="6.6" text-anchor="end" fill="#555" stroke="#555" stroke-width="0.2">0.6</text>
<line x1="31.10" y1="437.34" x2="34.40" y2="437.34" stroke="#2b2b2b" stroke-width="0.9"/>
<text transform="translate(28.80,439.72)" font-size="6.6" text-anchor="end" fill="#555" stroke="#555" stroke-width="0.2">0.4</text>
<line x1="31.10" y1="455.62" x2="34.40" y2="455.62" stroke="#2b2b2b" stroke-width="0.9"/>
<text transform="translate(28.80,458.00)" font-size="6.6" text-anchor="end" fill="#555" stroke="#555" stroke-width="0.2">0.2</text>
<line x1="31.10" y1="473.90" x2="34.40" y2="473.90" stroke="#2b2b2b" stroke-width="0.9"/>
<text transform="translate(28.80,476.28)" font-size="6.6" text-anchor="end" fill="#555" stroke="#555" stroke-width="0.2">0.0</text>
<line x1="33.80" y1="473.90" x2="107.50" y2="473.90" stroke="#2b2b2b" stroke-width="1.4"/>
<line x1="49.30" y1="473.90" x2="49.30" y2="477.00" stroke="#2b2b2b" stroke-width="0.9"/>
<line x1="71.20" y1="473.90" x2="71.20" y2="477.00" stroke="#2b2b2b" stroke-width="0.9"/>
<line x1="92.70" y1="473.90" x2="92.70" y2="477.00" stroke="#2b2b2b" stroke-width="0.9"/>
<path d="M49.10,392.30 L49.10,389.00 L93.90,389.00 L93.90,392.30" fill="none" stroke="#222" stroke-width="0.8"/>
<text transform="translate(71.50,389.79)" font-size="7" text-anchor="middle" fill="#222" stroke="#222" stroke-width="0.2">*</text>
<path d="M49.10,400.70 L49.10,397.40 L73.20,397.40 L73.20,400.70" fill="none" stroke="#222" stroke-width="0.8"/>
<text transform="translate(61.15,398.19)" font-size="7" text-anchor="middle" fill="#222" stroke="#222" stroke-width="0.2">*</text>
<text transform="translate(14.92,426.60) rotate(-90)" font-size="8.4" text-anchor="middle" fill="#333" stroke="#333" stroke-width="0.2" textLength="29.5" lengthAdjust="spacingAndGlyphs">Gln (mM)</text>
<text transform="translate(52.90,484.30) rotate(-45)" font-size="6.5" text-anchor="end" fill="#333" stroke="#333" stroke-width="0.2">BM ctrl</text>
<text transform="translate(72.90,484.30) rotate(-45)" font-size="6.5" text-anchor="end" fill="#333" stroke="#333" stroke-width="0.2">MIC serum</text>
<text transform="translate(94.90,484.30) rotate(-45)" font-size="6.5" text-anchor="end" fill="#333" stroke="#333" stroke-width="0.2">MIC TIF</text>
<text transform="translate(123.60,360.20)" font-size="12.8" text-anchor="start" fill="#111" font-weight="bold">H</text>
<text transform="translate(201.80,354.94)" font-size="6.5" text-anchor="middle" fill="#ad3f5e" stroke="#ad3f5e" stroke-width="0.2">MI<tspan dy="1.8" font-size="4.4">Cγ1</tspan><tspan dy="-1.8"> 170 days old</tspan></text>
<text transform="translate(203.70,365.14)" font-size="6.5" text-anchor="middle" fill="#333" stroke="#333" stroke-width="0.2" textLength="82.6" lengthAdjust="spacingAndGlyphs">3×10<tspan dy="-2.6" font-size="4.6">6</tspan><tspan dy="2.6"> CD8</tspan><tspan dy="-2.6" font-size="4.6">+</tspan><tspan dy="2.6"> + 3×10</tspan><tspan dy="-2.6" font-size="4.6">6</tspan><tspan dy="2.6"> CD4</tspan><tspan dy="-2.6" font-size="4.6">+</tspan><tspan dy="2.6"></tspan></text>
<text transform="translate(203.20,372.94)" font-size="6.5" text-anchor="middle" fill="#333" stroke="#333" stroke-width="0.2"><tspan font-style="italic">Bcma</tspan>-CART or <tspan font-style="italic">Asct2 Bcma</tspan>-CART cells</text>
<g transform="translate(172.40,377.30)">
<path d="M33.5,15.0 C37.5,15.1 40.7,16.6 40.9,19.3 C41.1,21.6 38,22.6 34,22.1 C30,21.7 25,20.7 20.5,20.3" fill="none" stroke="#c9a197" stroke-width="1.1" stroke-linecap="round"/>
<path d="M2.9,9.4 C3.5,8.2 5.5,6.8 8,5.6 L10.2,4.4 C10.8,3.2 12.6,2.9 13.2,4.0 L13.8,5.4 C18,4.8 25,5.0 29,7.0 C32.5,8.8 34.8,11.5 34.9,14.0 C35,16 33.5,17 31.5,17.2 L27,17.4 C26,18.2 24.5,18.6 22.5,18.3 L21.5,17.6 L15,17.4 C14.2,17.8 13.6,18.4 12.4,18.5 L9.0,18.6 C8.2,18.5 8.4,17.8 9.2,17.6 L11.0,17.2 C10.5,15.8 9.6,14.4 8.4,13.2 C6.8,12.2 4.8,11.2 3.6,10.6 C3.0,10.3 2.7,9.9 2.9,9.4 Z" fill="#433e3e"/>
<path d="M14.2,6.2 C19,5.6 25,5.8 28.6,7.6" fill="none" stroke="#5a5454" stroke-width="0.8" opacity="0.7"/>
<ellipse cx="12.3" cy="5.0" rx="1.0" ry="0.9" fill="#b09a9a" opacity="0.9"/>
<circle cx="7.4" cy="7.9" r="0.55" fill="#111"/>
<path d="M9.0,18.6 L8.0,18.7 M22.5,18.3 L21.4,18.6" stroke="#c9a197" stroke-width="0.7"/>
</g>
<g transform="translate(213.80,394.60) rotate(-44.5)">
<line x1="0" y1="0" x2="6.3" y2="0" stroke="#56708a" stroke-width="0.55"/>
<path d="M6.3,-0.6 L7.4,-1.7 L7.4,1.7 L6.3,0.6 Z" fill="#2a4a6a"/>
<rect x="7.4" y="-1.5" width="10" height="3.0" fill="#bfe0f2" stroke="#2b4d6e" stroke-width="0.55"/>
<rect x="7.65" y="-0.1" width="5.5" height="1.35" fill="#6aa6cf"/>
<line x1="17.6" y1="-2.7" x2="17.6" y2="2.7" stroke="#27496b" stroke-width="0.8"/>
<line x1="17.6" y1="0" x2="20.4" y2="0" stroke="#27496b" stroke-width="1.0"/>
<line x1="20.6" y1="-2.1" x2="20.6" y2="2.1" stroke="#27496b" stroke-width="1.0"/>
</g>
<text transform="translate(202.60,413.34)" font-size="6.5" text-anchor="middle" fill="#333" stroke="#333" stroke-width="0.2">TBI + IL-2 (×4)</text>
<path d="M292.4,354.8 C293.6,357.3 295.2,359.0 295.2,361.6 C295.2,363.6 293.9,364.9 292.4,364.9 C290.9,364.9 289.6,363.6 289.6,361.6 C289.6,359.0 291.2,357.3 292.4,354.8 Z" fill="#a3202c" stroke="none" stroke-width="1.0"/>
<text transform="translate(323.50,361.74)" font-size="6.5" text-anchor="middle" fill="#333" stroke="#333" stroke-width="0.2">Serum collection</text>
<line x1="273.00" y1="378.70" x2="364.00" y2="378.70" stroke="#222" stroke-width="0.9"/>
<path d="M368.2,378.7 L363.4,376.4 L363.4,381.0 Z" fill="#222" stroke="none" stroke-width="1.0"/>
<line x1="283.70" y1="371.50" x2="283.70" y2="385.30" stroke="#222" stroke-width="0.9"/>
<text transform="translate(283.70,393.34)" font-size="6.5" text-anchor="middle" fill="#333" stroke="#333" stroke-width="0.2">7</text>
<line x1="294.70" y1="371.50" x2="294.70" y2="385.30" stroke="#222" stroke-width="0.9"/>
<text transform="translate(294.70,393.34)" font-size="6.5" text-anchor="middle" fill="#333" stroke="#333" stroke-width="0.2">14</text>
<line x1="306.20" y1="371.50" x2="306.20" y2="385.30" stroke="#222" stroke-width="0.9"/>
<text transform="translate(306.20,393.34)" font-size="6.5" text-anchor="middle" fill="#333" stroke="#333" stroke-width="0.2">21</text>
<line x1="318.10" y1="371.50" x2="318.10" y2="385.30" stroke="#222" stroke-width="0.9"/>
<text transform="translate(318.10,393.34)" font-size="6.5" text-anchor="middle" fill="#333" stroke="#333" stroke-width="0.2">28</text>
<line x1="329.80" y1="371.50" x2="329.80" y2="385.30" stroke="#222" stroke-width="0.9"/>
<text transform="translate(329.80,393.34)" font-size="6.5" text-anchor="middle" fill="#333" stroke="#333" stroke-width="0.2">35</text>
<line x1="348.00" y1="371.50" x2="348.00" y2="385.30" stroke="#222" stroke-width="0.9"/>
<text transform="translate(348.00,393.34)" font-size="6.5" text-anchor="middle" fill="#333" stroke="#333" stroke-width="0.2">49</text>
<text transform="translate(382.60,380.74)" font-size="6.5" text-anchor="middle" fill="#333" stroke="#333" stroke-width="0.2">Survival</text>
<text transform="translate(265.50,389.14)" font-size="6.5" text-anchor="middle" fill="#333" stroke="#333" stroke-width="0.2">days</text>
<text transform="translate(276.50,396.94)" font-size="6.5" text-anchor="end" fill="#333" stroke="#333" stroke-width="0.2">post-ACT</text>
<line x1="149.80" y1="427.00" x2="149.80" y2="507.90" stroke="#2b2b2b" stroke-width="1.4"/>
<line x1="146.50" y1="427.70" x2="149.80" y2="427.70" stroke="#2b2b2b" stroke-width="0.9"/>
<text transform="translate(143.50,430.08)" font-size="6.6" text-anchor="end" fill="#555" stroke="#555" stroke-width="0.2">2.0</text>
<line x1="146.50" y1="447.60" x2="149.80" y2="447.60" stroke="#2b2b2b" stroke-width="0.9"/>
<text transform="translate(143.50,449.98)" font-size="6.6" text-anchor="end" fill="#555" stroke="#555" stroke-width="0.2">1.5</text>
<line x1="146.50" y1="467.50" x2="149.80" y2="467.50" stroke="#2b2b2b" stroke-width="0.9"/>
<text transform="translate(143.50,469.88)" font-size="6.6" text-anchor="end" fill="#555" stroke="#555" stroke-width="0.2">1.0</text>
<line x1="146.50" y1="487.40" x2="149.80" y2="487.40" stroke="#2b2b2b" stroke-width="0.9"/>
<text transform="translate(143.50,489.78)" font-size="6.6" text-anchor="end" fill="#555" stroke="#555" stroke-width="0.2">0.5</text>
<line x1="146.50" y1="507.30" x2="149.80" y2="507.30" stroke="#2b2b2b" stroke-width="0.9"/>
<text transform="translate(143.50,509.68)" font-size="6.6" text-anchor="end" fill="#555" stroke="#555" stroke-width="0.2">0.0</text>
<line x1="149.20" y1="507.30" x2="227.40" y2="507.30" stroke="#2b2b2b" stroke-width="1.4"/>
<line x1="157.70" y1="507.30" x2="157.70" y2="510.40" stroke="#2b2b2b" stroke-width="0.9"/>
<line x1="168.70" y1="507.30" x2="168.70" y2="510.40" stroke="#2b2b2b" stroke-width="0.9"/>
<line x1="179.30" y1="507.30" x2="179.30" y2="510.40" stroke="#2b2b2b" stroke-width="0.9"/>
<line x1="190.10" y1="507.30" x2="190.10" y2="510.40" stroke="#2b2b2b" stroke-width="0.9"/>
<line x1="201.10" y1="507.30" x2="201.10" y2="510.40" stroke="#2b2b2b" stroke-width="0.9"/>
<line x1="211.70" y1="507.30" x2="211.70" y2="510.40" stroke="#2b2b2b" stroke-width="0.9"/>
<line x1="222.70" y1="507.30" x2="222.70" y2="510.40" stroke="#2b2b2b" stroke-width="0.9"/>
<text transform="translate(157.70,519.45)" font-size="6.8" text-anchor="middle" fill="#555" stroke="#555" stroke-width="0.2">0</text>
<text transform="translate(168.70,519.45)" font-size="6.8" text-anchor="middle" fill="#555" stroke="#555" stroke-width="0.2">7</text>
<text transform="translate(179.30,519.45)" font-size="6.8" text-anchor="middle" fill="#555" stroke="#555" stroke-width="0.2">14</text>
<text transform="translate(190.10,519.45)" font-size="6.8" text-anchor="middle" fill="#555" stroke="#555" stroke-width="0.2">21</text>
<text transform="translate(201.10,519.45)" font-size="6.8" text-anchor="middle" fill="#555" stroke="#555" stroke-width="0.2">28</text>
<text transform="translate(211.70,519.45)" font-size="6.8" text-anchor="middle" fill="#555" stroke="#555" stroke-width="0.2">35</text>
<text transform="translate(222.70,519.45)" font-size="6.8" text-anchor="middle" fill="#555" stroke="#555" stroke-width="0.2">49</text>
<line x1="179.30" y1="493.70" x2="179.30" y2="498.50" stroke="#5f82aa" stroke-width="0.8"/>
<line x1="177.80" y1="493.70" x2="180.80" y2="493.70" stroke="#5f82aa" stroke-width="0.8"/>
<line x1="177.80" y1="498.50" x2="180.80" y2="498.50" stroke="#5f82aa" stroke-width="0.8"/>
<line x1="190.10" y1="473.10" x2="190.10" y2="491.40" stroke="#5f82aa" stroke-width="0.8"/>
<line x1="188.60" y1="473.10" x2="191.60" y2="473.10" stroke="#5f82aa" stroke-width="0.8"/>
<line x1="188.60" y1="491.40" x2="191.60" y2="491.40" stroke="#5f82aa" stroke-width="0.8"/>
<line x1="201.10" y1="459.20" x2="201.10" y2="484.30" stroke="#5f82aa" stroke-width="0.8"/>
<line x1="199.60" y1="459.20" x2="202.60" y2="459.20" stroke="#5f82aa" stroke-width="0.8"/>
<line x1="199.60" y1="484.30" x2="202.60" y2="484.30" stroke="#5f82aa" stroke-width="0.8"/>
<line x1="211.70" y1="456.30" x2="211.70" y2="479.50" stroke="#5f82aa" stroke-width="0.8"/>
<line x1="210.20" y1="456.30" x2="213.20" y2="456.30" stroke="#5f82aa" stroke-width="0.8"/>
<line x1="210.20" y1="479.50" x2="213.20" y2="479.50" stroke="#5f82aa" stroke-width="0.8"/>
<line x1="222.70" y1="437.90" x2="222.70" y2="465.70" stroke="#5f82aa" stroke-width="0.8"/>
<line x1="221.20" y1="437.90" x2="224.20" y2="437.90" stroke="#5f82aa" stroke-width="0.8"/>
<line x1="221.20" y1="465.70" x2="224.20" y2="465.70" stroke="#5f82aa" stroke-width="0.8"/>
<line x1="201.10" y1="497.80" x2="201.10" y2="501.50" stroke="#d34a66" stroke-width="0.8"/>
<line x1="199.60" y1="497.80" x2="202.60" y2="497.80" stroke="#d34a66" stroke-width="0.8"/>
<line x1="199.60" y1="501.50" x2="202.60" y2="501.50" stroke="#d34a66" stroke-width="0.8"/>
<line x1="211.70" y1="493.70" x2="211.70" y2="500.80" stroke="#d34a66" stroke-width="0.8"/>
<line x1="210.20" y1="493.70" x2="213.20" y2="493.70" stroke="#d34a66" stroke-width="0.8"/>
<line x1="210.20" y1="500.80" x2="213.20" y2="500.80" stroke="#d34a66" stroke-width="0.8"/>
<line x1="222.70" y1="466.60" x2="222.70" y2="498.50" stroke="#d34a66" stroke-width="0.8"/>
<line x1="221.20" y1="466.60" x2="224.20" y2="466.60" stroke="#d34a66" stroke-width="0.8"/>
<line x1="221.20" y1="498.50" x2="224.20" y2="498.50" stroke="#d34a66" stroke-width="0.8"/>
<polyline fill="none" stroke="#d0294b" stroke-width="1.2" stroke-linejoin="miter" points="168.70,498.50 179.30,501.50 190.10,501.80 201.10,499.70 211.70,497.00 222.70,475.80"/>
<polyline fill="none" stroke="#1f4675" stroke-width="1.2" stroke-linejoin="miter" points="157.70,467.50 168.70,498.50 179.30,496.70 190.10,482.20 201.10,471.90 211.70,467.80 222.70,451.90"/>
<circle cx="168.70" cy="498.50" r="1.3" fill="#c20a32"/>
<circle cx="179.30" cy="501.50" r="1.3" fill="#c20a32"/>
<circle cx="190.10" cy="501.80" r="1.3" fill="#c20a32"/>
<circle cx="201.10" cy="499.70" r="1.3" fill="#c20a32"/>
<circle cx="211.70" cy="497.00" r="1.3" fill="#c20a32"/>
<circle cx="222.70" cy="475.80" r="1.3" fill="#c20a32"/>
<circle cx="157.70" cy="467.50" r="1.1" fill="#1d3f6e"/>
<circle cx="168.70" cy="498.50" r="1.1" fill="#1d3f6e"/>
<circle cx="179.30" cy="496.70" r="1.1" fill="#1d3f6e"/>
<circle cx="190.10" cy="482.20" r="1.1" fill="#1d3f6e"/>
<circle cx="201.10" cy="471.90" r="1.1" fill="#1d3f6e"/>
<circle cx="211.70" cy="467.80" r="1.1" fill="#1d3f6e"/>
<circle cx="222.70" cy="451.90" r="1.1" fill="#1d3f6e"/>
<path d="M228.3,449.8 L230.3,449.8 L230.3,474.6 L228.3,474.6" fill="none" stroke="#222" stroke-width="0.9"/>
<circle cx="234.20" cy="461.00" r="0.85" fill="#222"/>
<circle cx="234.20" cy="463.90" r="0.85" fill="#222"/>
<circle cx="234.20" cy="466.80" r="0.85" fill="#222"/>
<text transform="translate(130.83,466.30) rotate(-90)" font-size="8.7" text-anchor="middle" fill="#333" stroke="#333" stroke-width="0.2" textLength="56.6" lengthAdjust="spacingAndGlyphs">FC gamma fraction</text>
<text transform="translate(190.30,531.70)" font-size="8.9" text-anchor="middle" fill="#333" stroke="#333" stroke-width="0.2" textLength="42.2" lengthAdjust="spacingAndGlyphs">Days post-ACT</text>
<line x1="308.50" y1="428.00" x2="308.50" y2="507.00" stroke="#000" stroke-width="1.0" stroke-dasharray="1,1" shape-rendering="crispEdges"/>
<polyline fill="none" stroke="#a9a9a9" stroke-width="0.9" stroke-linejoin="miter" points="299.60,427.40 302.00,427.40 302.00,429.40 304.20,429.40 304.20,431.20 306.50,431.20 306.50,434.00 308.80,434.00 308.80,437.40 310.80,437.40 310.80,439.50 312.70,439.50 312.70,441.20 315.80,441.20 315.80,443.50 316.50,443.50 316.50,449.70 318.00,449.70 318.00,452.50 319.60,452.50 319.60,455.00 321.50,455.00 321.50,457.80 323.50,457.80 323.50,460.50 325.80,460.50 325.80,466.60 327.30,466.60 327.30,469.70 328.80,469.70 328.80,472.80 330.30,472.80 330.30,475.50 331.90,475.50 331.90,478.20 334.20,478.20 334.20,483.50 335.30,483.50 335.30,486.60 336.50,486.60 336.50,489.70 338.00,489.70 338.00,492.70 339.60,492.70 339.60,495.80 342.00,495.80 342.00,498.20 344.20,498.20 344.20,500.50 348.80,500.50 348.80,502.00 353.50,502.00 353.50,502.80 356.50,502.80 356.50,505.00 365.80,505.00 365.80,505.80 367.00,505.80 367.00,507.00"/>
<polyline fill="none" stroke="#d3455f" stroke-width="1.1" stroke-linejoin="miter" points="299.20,427.40 350.40,427.40 350.40,438.20 356.50,438.20 356.50,449.80 357.00,449.80 357.00,462.00 357.60,462.00 357.60,472.80 362.70,472.80 362.70,484.30 371.90,484.30 371.90,495.80 391.60,495.80 391.60,495.80"/>
<polyline fill="none" stroke="#34557c" stroke-width="1.1" stroke-linejoin="miter" points="299.20,427.40 322.70,427.40 322.70,437.70 331.20,437.70 331.20,449.40 337.30,449.40 337.30,460.50 342.40,460.50 342.40,472.00 344.00,472.00 344.00,483.50 345.50,483.50 345.50,495.00 348.80,495.00 348.80,507.00"/>
<line x1="281.70" y1="427.40" x2="292.50" y2="427.40" stroke="#444" stroke-width="1.2"/>
<line x1="298.30" y1="427.40" x2="322.70" y2="427.40" stroke="#444" stroke-width="1.2"/>
<line x1="281.70" y1="426.40" x2="281.70" y2="507.60" stroke="#2b2b2b" stroke-width="1.4"/>
<line x1="278.40" y1="427.40" x2="281.70" y2="427.40" stroke="#2b2b2b" stroke-width="0.9"/>
<text transform="translate(275.40,429.78)" font-size="6.6" text-anchor="end" fill="#555" stroke="#555" stroke-width="0.2">100</text>
<line x1="278.40" y1="467.20" x2="281.70" y2="467.20" stroke="#2b2b2b" stroke-width="0.9"/>
<text transform="translate(275.40,469.58)" font-size="6.6" text-anchor="end" fill="#555" stroke="#555" stroke-width="0.2">50</text>
<line x1="278.40" y1="507.00" x2="281.70" y2="507.00" stroke="#2b2b2b" stroke-width="0.9"/>
<text transform="translate(275.40,509.38)" font-size="6.6" text-anchor="end" fill="#555" stroke="#555" stroke-width="0.2">0</text>
<line x1="278.80" y1="507.20" x2="292.50" y2="507.20" stroke="#2b2b2b" stroke-width="1.2"/>
<line x1="298.30" y1="507.20" x2="391.60" y2="507.20" stroke="#2b2b2b" stroke-width="1.2"/>
<line x1="281.70" y1="507.00" x2="281.70" y2="510.00" stroke="#2b2b2b" stroke-width="1.2"/>
<line x1="298.30" y1="505.00" x2="298.30" y2="509.20" stroke="#2b2b2b" stroke-width="0.9"/>
<text transform="translate(281.70,518.95)" font-size="6.8" text-anchor="middle" fill="#555" stroke="#555" stroke-width="0.2">0</text>
<text transform="translate(298.80,518.95)" font-size="6.8" text-anchor="middle" fill="#555" stroke="#555" stroke-width="0.2">150</text>
<line x1="321.90" y1="507.00" x2="321.90" y2="510.00" stroke="#2b2b2b" stroke-width="0.9"/>
<text transform="translate(321.90,518.95)" font-size="6.8" text-anchor="middle" fill="#555" stroke="#555" stroke-width="0.2">200</text>
<line x1="344.50" y1="507.00" x2="344.50" y2="510.00" stroke="#2b2b2b" stroke-width="0.9"/>
<text transform="translate(344.50,518.95)" font-size="6.8" text-anchor="middle" fill="#555" stroke="#555" stroke-width="0.2">250</text>
<line x1="367.60" y1="507.00" x2="367.60" y2="510.00" stroke="#2b2b2b" stroke-width="0.9"/>
<text transform="translate(367.60,518.95)" font-size="6.8" text-anchor="middle" fill="#555" stroke="#555" stroke-width="0.2">300</text>
<line x1="390.70" y1="507.00" x2="390.70" y2="510.00" stroke="#2b2b2b" stroke-width="0.9"/>
<text transform="translate(390.70,518.95)" font-size="6.8" text-anchor="middle" fill="#555" stroke="#555" stroke-width="0.2">350</text>
<line x1="292.50" y1="505.00" x2="292.50" y2="509.20" stroke="#2b2b2b" stroke-width="0.9"/>
<text transform="translate(338.80,532.20)" font-size="8.9" text-anchor="middle" fill="#333" stroke="#333" stroke-width="0.2" textLength="34.7" lengthAdjust="spacingAndGlyphs">Days of age</text>
<text transform="translate(259.70,466.20) rotate(-90)" font-size="8.6" text-anchor="middle" fill="#333" stroke="#333" stroke-width="0.2" textLength="48" lengthAdjust="spacingAndGlyphs">Percent survival</text>
<line x1="400.00" y1="428.50" x2="409.80" y2="428.50" stroke="#a9a9a9" stroke-width="1.0"/>
<text transform="translate(414.00,430.80)" font-size="6.4" text-anchor="start" fill="#333" stroke="#333" stroke-width="0.2" textLength="28.9" lengthAdjust="spacingAndGlyphs">Untreated</text>
<line x1="400.00" y1="439.00" x2="409.80" y2="439.00" stroke="#34557c" stroke-width="1.0"/>
<text transform="translate(414.00,441.30)" font-size="6.4" text-anchor="start" fill="#333" stroke="#333" stroke-width="0.2" textLength="34.7" lengthAdjust="spacingAndGlyphs"><tspan font-style="italic">Bcma</tspan>-CART</text>
<line x1="400.00" y1="449.00" x2="409.80" y2="449.00" stroke="#d3455f" stroke-width="1.0"/>
<text transform="translate(414.00,451.30)" font-size="6.4" text-anchor="start" fill="#333" stroke="#333" stroke-width="0.2" textLength="53" lengthAdjust="spacingAndGlyphs"><tspan font-style="italic">Asct2 Bcma</tspan>-CART</text>
<path d="M471.5,437.7 L474.6,437.7 L474.6,449.6 L471.5,449.6" fill="none" stroke="#222" stroke-width="1.0"/>
<circle cx="479.40" cy="443.60" r="0.95" fill="#222"/>
<circle cx="482.40" cy="443.60" r="0.95" fill="#222"/>
<circle cx="485.40" cy="443.60" r="0.95" fill="#222"/>
<text transform="translate(6.80,559.20)" font-size="12.8" text-anchor="start" fill="#111" font-weight="bold">I</text>
<rect x="60.20" y="624.00" width="10.80" height="40.60" fill="#d2d5d8"/>
<rect x="79.00" y="645.40" width="11.50" height="19.20" fill="#7c9fc2"/>
<rect x="98.30" y="651.70" width="11.40" height="12.90" fill="#e8899b"/>
<line x1="65.30" y1="613.60" x2="65.30" y2="632.30" stroke="#777" stroke-width="0.8"/>
<line x1="62.30" y1="613.60" x2="68.30" y2="613.60" stroke="#777" stroke-width="0.8"/>
<line x1="62.30" y1="632.30" x2="68.30" y2="632.30" stroke="#777" stroke-width="0.8"/>
<line x1="84.70" y1="635.60" x2="84.70" y2="653.00" stroke="#1d3f6e" stroke-width="0.8"/>
<line x1="81.70" y1="635.60" x2="87.70" y2="635.60" stroke="#1d3f6e" stroke-width="0.8"/>
<line x1="81.70" y1="653.00" x2="87.70" y2="653.00" stroke="#1d3f6e" stroke-width="0.8"/>
<line x1="104.00" y1="646.20" x2="104.00" y2="657.00" stroke="#c20a32" stroke-width="0.8"/>
<line x1="101.00" y1="646.20" x2="107.00" y2="646.20" stroke="#c20a32" stroke-width="0.8"/>
<line x1="101.00" y1="657.00" x2="107.00" y2="657.00" stroke="#c20a32" stroke-width="0.8"/>
<path d="M65.30,598.28 L66.80,601.12 L63.80,601.12 Z" fill="#9a9a9a"/>
<path d="M65.30,606.28 L66.80,609.12 L63.80,609.12 Z" fill="#9a9a9a"/>
<path d="M65.30,619.48 L66.80,622.32 L63.80,622.32 Z" fill="#9a9a9a"/>
<path d="M65.30,636.68 L66.80,639.52 L63.80,639.52 Z" fill="#9a9a9a"/>
<path d="M65.30,649.38 L66.80,652.22 L63.80,652.22 Z" fill="#9a9a9a"/>
<circle cx="84.70" cy="620.90" r="1.35" fill="#1d3f6e"/>
<circle cx="84.70" cy="642.80" r="1.35" fill="#1d3f6e"/>
<circle cx="84.70" cy="655.10" r="1.35" fill="#1d3f6e"/>
<circle cx="84.70" cy="659.30" r="1.35" fill="#1d3f6e"/>
<rect x="99.60" y="639.90" width="2.6" height="2.6" fill="#c20a32"/>
<rect x="105.50" y="640.60" width="2.6" height="2.6" fill="#c20a32"/>
<rect x="99.60" y="652.10" width="2.6" height="2.6" fill="#c20a32"/>
<rect x="105.90" y="653.80" width="2.6" height="2.6" fill="#c20a32"/>
<rect x="102.70" y="659.30" width="2.6" height="2.6" fill="#c20a32"/>
<line x1="52.40" y1="566.40" x2="52.40" y2="665.20" stroke="#2b2b2b" stroke-width="1.4"/>
<line x1="49.10" y1="567.70" x2="52.40" y2="567.70" stroke="#2b2b2b" stroke-width="0.9"/>
<text transform="translate(45.70,570.08)" font-size="6.6" text-anchor="end" fill="#555" stroke="#555" stroke-width="0.2">150</text>
<line x1="49.10" y1="600.10" x2="52.40" y2="600.10" stroke="#2b2b2b" stroke-width="0.9"/>
<text transform="translate(45.70,602.48)" font-size="6.6" text-anchor="end" fill="#555" stroke="#555" stroke-width="0.2">100</text>
<line x1="49.10" y1="632.50" x2="52.40" y2="632.50" stroke="#2b2b2b" stroke-width="0.9"/>
<text transform="translate(45.70,634.88)" font-size="6.6" text-anchor="end" fill="#555" stroke="#555" stroke-width="0.2">50</text>
<line x1="49.10" y1="664.60" x2="52.40" y2="664.60" stroke="#2b2b2b" stroke-width="0.9"/>
<text transform="translate(45.70,666.98)" font-size="6.6" text-anchor="end" fill="#555" stroke="#555" stroke-width="0.2">0</text>
<line x1="51.80" y1="664.60" x2="117.50" y2="664.60" stroke="#2b2b2b" stroke-width="1.4"/>
<line x1="65.30" y1="664.60" x2="65.30" y2="667.70" stroke="#2b2b2b" stroke-width="0.9"/>
<line x1="84.70" y1="664.60" x2="84.70" y2="667.70" stroke="#2b2b2b" stroke-width="0.9"/>
<line x1="104.00" y1="664.60" x2="104.00" y2="667.70" stroke="#2b2b2b" stroke-width="0.9"/>
<path d="M65.30,592.40 L65.30,589.50 L101.50,589.50 L101.50,592.40" fill="none" stroke="#222" stroke-width="0.8"/>
<text transform="translate(83.40,590.29)" font-size="7" text-anchor="middle" fill="#222" stroke="#222" stroke-width="0.2">*</text>
<text transform="translate(17.86,614.80) rotate(-90)" font-size="9.2" text-anchor="middle" fill="#333" stroke="#333" stroke-width="0.2" textLength="91" lengthAdjust="spacingAndGlyphs">Number of B220<tspan dy="-3.0" font-size="5.5">−</tspan><tspan dy="3.0">GFP</tspan><tspan dy="-3.0" font-size="5.5">+</tspan><tspan dy="3.0"> tumor</tspan></text>
<text transform="translate(28.24,615.50) rotate(-90)" font-size="9.0" text-anchor="middle" fill="#333" stroke="#333" stroke-width="0.2" textLength="62" lengthAdjust="spacingAndGlyphs">cells/spleen (×10<tspan dy="-3.0" font-size="5.5">3</tspan><tspan dy="3.0">)</tspan></text>
<text transform="translate(68.40,675.80) rotate(-45) scale(0.9,1)" font-size="6.5" text-anchor="end" fill="#333" stroke="#333" stroke-width="0.2">Untreated</text>
<text transform="translate(87.60,675.80) rotate(-45) scale(0.9,1)" font-size="6.5" text-anchor="end" fill="#333" stroke="#333" stroke-width="0.2">Bcma-CAR</text>
<text transform="translate(106.80,675.80) rotate(-45) scale(0.9,1)" font-size="6.5" text-anchor="end" fill="#333" stroke="#333" stroke-width="0.2">Asct2 Bcma-CAR</text>
<rect x="174.40" y="605.90" width="11.00" height="59.00" fill="#d2d5d8"/>
<rect x="193.90" y="648.00" width="11.10" height="16.90" fill="#7c9fc2"/>
<rect x="213.20" y="653.70" width="11.50" height="11.20" fill="#e8899b"/>
<line x1="179.80" y1="598.00" x2="179.80" y2="612.40" stroke="#777" stroke-width="0.8"/>
<line x1="176.80" y1="598.00" x2="182.80" y2="598.00" stroke="#777" stroke-width="0.8"/>
<line x1="176.80" y1="612.40" x2="182.80" y2="612.40" stroke="#777" stroke-width="0.8"/>
<line x1="199.40" y1="638.90" x2="199.40" y2="656.20" stroke="#1d3f6e" stroke-width="0.8"/>
<line x1="196.40" y1="638.90" x2="202.40" y2="638.90" stroke="#1d3f6e" stroke-width="0.8"/>
<line x1="196.40" y1="656.20" x2="202.40" y2="656.20" stroke="#1d3f6e" stroke-width="0.8"/>
<line x1="218.80" y1="647.60" x2="218.80" y2="659.00" stroke="#c20a32" stroke-width="0.8"/>
<line x1="215.80" y1="647.60" x2="221.80" y2="647.60" stroke="#c20a32" stroke-width="0.8"/>
<line x1="215.80" y1="659.00" x2="221.80" y2="659.00" stroke="#c20a32" stroke-width="0.8"/>
<path d="M179.80,582.28 L181.30,585.12 L178.30,585.12 Z" fill="#9a9a9a"/>
<path d="M179.80,591.98 L181.30,594.82 L178.30,594.82 Z" fill="#9a9a9a"/>
<path d="M179.80,610.68 L181.30,613.52 L178.30,613.52 Z" fill="#9a9a9a"/>
<path d="M179.80,615.28 L181.30,618.12 L178.30,618.12 Z" fill="#9a9a9a"/>
<path d="M179.80,619.58 L181.30,622.42 L178.30,622.42 Z" fill="#9a9a9a"/>
<circle cx="199.40" cy="622.00" r="1.35" fill="#1d3f6e"/>
<circle cx="199.40" cy="651.60" r="1.35" fill="#1d3f6e"/>
<circle cx="199.40" cy="656.20" r="1.35" fill="#1d3f6e"/>
<circle cx="199.40" cy="659.80" r="1.35" fill="#1d3f6e"/>
<rect x="217.50" y="637.60" width="2.6" height="2.6" fill="#c20a32"/>
<rect x="217.50" y="642.20" width="2.6" height="2.6" fill="#c20a32"/>
<rect x="217.50" y="654.40" width="2.6" height="2.6" fill="#c20a32"/>
<rect x="214.70" y="660.10" width="2.6" height="2.6" fill="#c20a32"/>
<rect x="221.20" y="660.10" width="2.6" height="2.6" fill="#c20a32"/>
<line x1="166.60" y1="566.40" x2="166.60" y2="665.50" stroke="#2b2b2b" stroke-width="1.4"/>
<line x1="163.30" y1="567.50" x2="166.60" y2="567.50" stroke="#2b2b2b" stroke-width="0.9"/>
<text transform="translate(159.90,569.88)" font-size="6.6" text-anchor="end" fill="#555" stroke="#555" stroke-width="0.2">40</text>
<line x1="163.30" y1="592.00" x2="166.60" y2="592.00" stroke="#2b2b2b" stroke-width="0.9"/>
<text transform="translate(159.90,594.38)" font-size="6.6" text-anchor="end" fill="#555" stroke="#555" stroke-width="0.2">30</text>
<line x1="163.30" y1="616.30" x2="166.60" y2="616.30" stroke="#2b2b2b" stroke-width="0.9"/>
<text transform="translate(159.90,618.68)" font-size="6.6" text-anchor="end" fill="#555" stroke="#555" stroke-width="0.2">20</text>
<line x1="163.30" y1="640.60" x2="166.60" y2="640.60" stroke="#2b2b2b" stroke-width="0.9"/>
<text transform="translate(159.90,642.98)" font-size="6.6" text-anchor="end" fill="#555" stroke="#555" stroke-width="0.2">10</text>
<line x1="163.30" y1="664.90" x2="166.60" y2="664.90" stroke="#2b2b2b" stroke-width="0.9"/>
<text transform="translate(159.90,667.28)" font-size="6.6" text-anchor="end" fill="#555" stroke="#555" stroke-width="0.2">0</text>
<line x1="166.00" y1="664.90" x2="232.00" y2="664.90" stroke="#2b2b2b" stroke-width="1.4"/>
<line x1="179.80" y1="664.90" x2="179.80" y2="668.00" stroke="#2b2b2b" stroke-width="0.9"/>
<line x1="199.40" y1="664.90" x2="199.40" y2="668.00" stroke="#2b2b2b" stroke-width="0.9"/>
<line x1="218.80" y1="664.90" x2="218.80" y2="668.00" stroke="#2b2b2b" stroke-width="0.9"/>
<path d="M179.80,570.40 L179.80,567.40 L218.80,567.40 L218.80,570.40" fill="none" stroke="#222" stroke-width="0.8"/>
<text transform="translate(199.30,568.29)" font-size="7" text-anchor="middle" fill="#222" stroke="#222" stroke-width="0.2">*</text>
<path d="M179.80,580.60 L179.80,577.60 L199.40,577.60 L199.40,580.60" fill="none" stroke="#222" stroke-width="0.8"/>
<text transform="translate(189.60,578.39)" font-size="7" text-anchor="middle" fill="#222" stroke="#222" stroke-width="0.2">*</text>
<text transform="translate(138.71,614.80) rotate(-90)" font-size="9.2" text-anchor="middle" fill="#333" stroke="#333" stroke-width="0.2" textLength="91" lengthAdjust="spacingAndGlyphs">Number of B220<tspan dy="-3.0" font-size="5.5">−</tspan><tspan dy="3.0">GFP</tspan><tspan dy="-3.0" font-size="5.5">+</tspan><tspan dy="3.0"> tumor</tspan></text>
<text transform="translate(149.14,614.40) rotate(-90)" font-size="9.0" text-anchor="middle" fill="#333" stroke="#333" stroke-width="0.2" textLength="48.7" lengthAdjust="spacingAndGlyphs">cells/BM (×10<tspan dy="-3.0" font-size="5.5">3</tspan><tspan dy="3.0">)</tspan></text>
<text transform="translate(182.90,675.80) rotate(-45) scale(0.9,1)" font-size="6.5" text-anchor="end" fill="#333" stroke="#333" stroke-width="0.2">Untreated</text>
<text transform="translate(202.30,675.80) rotate(-45) scale(0.9,1)" font-size="6.5" text-anchor="end" fill="#333" stroke="#333" stroke-width="0.2">Bcma-CAR</text>
<text transform="translate(221.90,675.80) rotate(-45) scale(0.9,1)" font-size="6.5" text-anchor="end" fill="#333" stroke="#333" stroke-width="0.2">Asct2 Bcma-CAR</text>
<text transform="translate(253.80,559.50)" font-size="12.8" text-anchor="start" fill="#111" font-weight="bold">J</text>
<rect x="298.90" y="654.50" width="7.60" height="10.20" fill="#7c9fc2"/>
<rect x="312.20" y="618.40" width="7.00" height="46.30" fill="#e8899b"/>
<rect x="333.60" y="660.20" width="7.00" height="4.50" fill="#7c9fc2"/>
<rect x="346.70" y="647.90" width="7.20" height="16.80" fill="#e8899b"/>
<line x1="302.70" y1="652.00" x2="302.70" y2="656.60" stroke="#1d3f6e" stroke-width="0.8"/>
<line x1="300.20" y1="652.00" x2="305.20" y2="652.00" stroke="#1d3f6e" stroke-width="0.8"/>
<line x1="300.20" y1="656.60" x2="305.20" y2="656.60" stroke="#1d3f6e" stroke-width="0.8"/>
<line x1="315.70" y1="601.30" x2="315.70" y2="633.70" stroke="#c20a32" stroke-width="0.8"/>
<line x1="313.20" y1="601.30" x2="318.20" y2="601.30" stroke="#c20a32" stroke-width="0.8"/>
<line x1="313.20" y1="633.70" x2="318.20" y2="633.70" stroke="#c20a32" stroke-width="0.8"/>
<line x1="337.10" y1="657.10" x2="337.10" y2="662.00" stroke="#1d3f6e" stroke-width="0.8"/>
<line x1="334.60" y1="657.10" x2="339.60" y2="657.10" stroke="#1d3f6e" stroke-width="0.8"/>
<line x1="334.60" y1="662.00" x2="339.60" y2="662.00" stroke="#1d3f6e" stroke-width="0.8"/>
<line x1="350.50" y1="641.00" x2="350.50" y2="653.00" stroke="#c20a32" stroke-width="0.8"/>
<line x1="348.00" y1="641.00" x2="353.00" y2="641.00" stroke="#c20a32" stroke-width="0.8"/>
<line x1="348.00" y1="653.00" x2="353.00" y2="653.00" stroke="#c20a32" stroke-width="0.8"/>
<circle cx="299.60" cy="651.40" r="1.35" fill="#1d3f6e"/>
<circle cx="305.50" cy="652.50" r="1.35" fill="#1d3f6e"/>
<circle cx="302.00" cy="656.30" r="1.35" fill="#1d3f6e"/>
<circle cx="302.70" cy="653.50" r="1.35" fill="#1d3f6e"/>
<rect x="311.30" y="578.30" width="2.6" height="2.6" fill="#c20a32"/>
<rect x="317.50" y="580.90" width="2.6" height="2.6" fill="#c20a32"/>
<rect x="314.40" y="621.10" width="2.6" height="2.6" fill="#c20a32"/>
<rect x="314.40" y="639.40" width="2.6" height="2.6" fill="#c20a32"/>
<rect x="314.40" y="660.40" width="2.6" height="2.6" fill="#c20a32"/>
<circle cx="337.10" cy="654.00" r="1.35" fill="#1d3f6e"/>
<circle cx="337.10" cy="657.90" r="1.35" fill="#1d3f6e"/>
<circle cx="334.00" cy="661.70" r="1.35" fill="#1d3f6e"/>
<circle cx="340.60" cy="661.00" r="1.35" fill="#1d3f6e"/>
<circle cx="337.10" cy="663.20" r="1.35" fill="#1d3f6e"/>
<rect x="346.10" y="631.80" width="2.6" height="2.6" fill="#c20a32"/>
<rect x="351.90" y="633.60" width="2.6" height="2.6" fill="#c20a32"/>
<rect x="349.20" y="644.00" width="2.6" height="2.6" fill="#c20a32"/>
<rect x="346.10" y="660.80" width="2.6" height="2.6" fill="#c20a32"/>
<rect x="351.90" y="658.90" width="2.6" height="2.6" fill="#c20a32"/>
<line x1="293.80" y1="566.80" x2="293.80" y2="665.30" stroke="#2b2b2b" stroke-width="1.4"/>
<line x1="290.50" y1="567.70" x2="293.80" y2="567.70" stroke="#2b2b2b" stroke-width="0.9"/>
<text transform="translate(287.50,570.04)" font-size="6.5" text-anchor="end" fill="#555" stroke="#555" stroke-width="0.2">25</text>
<line x1="290.50" y1="587.10" x2="293.80" y2="587.10" stroke="#2b2b2b" stroke-width="0.9"/>
<text transform="translate(287.50,589.44)" font-size="6.5" text-anchor="end" fill="#555" stroke="#555" stroke-width="0.2">20</text>
<line x1="290.50" y1="606.50" x2="293.80" y2="606.50" stroke="#2b2b2b" stroke-width="0.9"/>
<text transform="translate(287.50,608.84)" font-size="6.5" text-anchor="end" fill="#555" stroke="#555" stroke-width="0.2">15</text>
<line x1="290.50" y1="625.90" x2="293.80" y2="625.90" stroke="#2b2b2b" stroke-width="0.9"/>
<text transform="translate(287.50,628.24)" font-size="6.5" text-anchor="end" fill="#555" stroke="#555" stroke-width="0.2">10</text>
<line x1="290.50" y1="645.30" x2="293.80" y2="645.30" stroke="#2b2b2b" stroke-width="0.9"/>
<text transform="translate(287.50,647.64)" font-size="6.5" text-anchor="end" fill="#555" stroke="#555" stroke-width="0.2">5</text>
<line x1="290.50" y1="664.70" x2="293.80" y2="664.70" stroke="#2b2b2b" stroke-width="0.9"/>
<text transform="translate(287.50,667.04)" font-size="6.5" text-anchor="end" fill="#555" stroke="#555" stroke-width="0.2">0</text>
<line x1="293.20" y1="664.70" x2="359.20" y2="664.70" stroke="#2b2b2b" stroke-width="1.4"/>
<line x1="309.10" y1="664.70" x2="309.10" y2="667.80" stroke="#2b2b2b" stroke-width="0.9"/>
<line x1="343.70" y1="664.70" x2="343.70" y2="667.80" stroke="#2b2b2b" stroke-width="0.9"/>
<path d="M304.20,571.50 L304.20,568.70 L316.50,568.70 L316.50,571.50" fill="none" stroke="#222" stroke-width="0.8"/>
<text transform="translate(310.35,569.39)" font-size="7" text-anchor="middle" fill="#222" stroke="#222" stroke-width="0.2">*</text>
<text transform="translate(309.60,677.55)" font-size="6.8" text-anchor="middle" fill="#333" stroke="#333" stroke-width="0.2">CD4</text>
<text transform="translate(343.30,677.55)" font-size="6.8" text-anchor="middle" fill="#333" stroke="#333" stroke-width="0.2">CD8</text>
<text transform="translate(264.50,618.80) rotate(-90)" font-size="8.9" text-anchor="middle" fill="#333" stroke="#333" stroke-width="0.2" textLength="62.4" lengthAdjust="spacingAndGlyphs">Number of CD3<tspan dy="-3.0" font-size="5.5">+</tspan><tspan dy="3.0">CAR</tspan><tspan dy="-3.0" font-size="5.5">+</tspan><tspan dy="3.0">/</tspan></text>
<text transform="translate(274.80,615.20) rotate(-90)" font-size="8.9" text-anchor="middle" fill="#333" stroke="#333" stroke-width="0.2" textLength="47.5" lengthAdjust="spacingAndGlyphs">spleen (×10<tspan dy="-3.0" font-size="5.5">3</tspan><tspan dy="3.0">)</tspan></text>
<rect x="409.80" y="658.60" width="8.00" height="6.10" fill="#7c9fc2"/>
<rect x="423.10" y="636.10" width="7.70" height="28.60" fill="#e8899b"/>
<rect x="444.50" y="660.20" width="8.10" height="4.50" fill="#7c9fc2"/>
<rect x="457.80" y="644.90" width="7.10" height="19.80" fill="#e8899b"/>
<line x1="413.90" y1="654.50" x2="413.90" y2="662.00" stroke="#1d3f6e" stroke-width="0.8"/>
<line x1="411.40" y1="654.50" x2="416.40" y2="654.50" stroke="#1d3f6e" stroke-width="0.8"/>
<line x1="411.40" y1="662.00" x2="416.40" y2="662.00" stroke="#1d3f6e" stroke-width="0.8"/>
<line x1="427.00" y1="620.40" x2="427.00" y2="650.20" stroke="#c20a32" stroke-width="0.8"/>
<line x1="424.50" y1="620.40" x2="429.50" y2="620.40" stroke="#c20a32" stroke-width="0.8"/>
<line x1="424.50" y1="650.20" x2="429.50" y2="650.20" stroke="#c20a32" stroke-width="0.8"/>
<line x1="448.60" y1="659.00" x2="448.60" y2="662.00" stroke="#1d3f6e" stroke-width="0.8"/>
<line x1="446.10" y1="659.00" x2="451.10" y2="659.00" stroke="#1d3f6e" stroke-width="0.8"/>
<line x1="446.10" y1="662.00" x2="451.10" y2="662.00" stroke="#1d3f6e" stroke-width="0.8"/>
<line x1="461.30" y1="629.60" x2="461.30" y2="657.90" stroke="#c20a32" stroke-width="0.8"/>
<line x1="458.80" y1="629.60" x2="463.80" y2="629.60" stroke="#c20a32" stroke-width="0.8"/>
<line x1="458.80" y1="657.90" x2="463.80" y2="657.90" stroke="#c20a32" stroke-width="0.8"/>
<circle cx="413.90" cy="647.50" r="1.35" fill="#1d3f6e"/>
<circle cx="410.40" cy="659.40" r="1.35" fill="#1d3f6e"/>
<circle cx="412.90" cy="661.00" r="1.35" fill="#1d3f6e"/>
<circle cx="415.90" cy="661.70" r="1.35" fill="#1d3f6e"/>
<circle cx="417.50" cy="662.10" r="1.35" fill="#1d3f6e"/>
<circle cx="427.00" cy="596.70" r="1.45" fill="#c20a32"/>
<circle cx="427.00" cy="601.30" r="1.45" fill="#c20a32"/>
<circle cx="423.60" cy="656.00" r="1.45" fill="#c20a32"/>
<circle cx="429.70" cy="658.60" r="1.45" fill="#c20a32"/>
<circle cx="427.00" cy="662.80" r="1.45" fill="#c20a32"/>
<circle cx="445.60" cy="660.50" r="1.35" fill="#1d3f6e"/>
<circle cx="448.30" cy="661.50" r="1.35" fill="#1d3f6e"/>
<circle cx="450.60" cy="661.00" r="1.35" fill="#1d3f6e"/>
<circle cx="452.20" cy="660.50" r="1.35" fill="#1d3f6e"/>
<circle cx="461.30" cy="589.80" r="1.45" fill="#c20a32"/>
<circle cx="461.30" cy="639.80" r="1.45" fill="#c20a32"/>
<circle cx="461.30" cy="661.20" r="1.45" fill="#c20a32"/>
<circle cx="458.30" cy="662.80" r="1.45" fill="#c20a32"/>
<circle cx="464.40" cy="662.80" r="1.45" fill="#c20a32"/>
<line x1="405.30" y1="566.80" x2="405.30" y2="665.30" stroke="#2b2b2b" stroke-width="1.4"/>
<line x1="402.00" y1="567.90" x2="405.30" y2="567.90" stroke="#2b2b2b" stroke-width="0.9"/>
<text transform="translate(399.00,570.24)" font-size="6.5" text-anchor="end" fill="#555" stroke="#555" stroke-width="0.2">4</text>
<line x1="402.00" y1="592.20" x2="405.30" y2="592.20" stroke="#2b2b2b" stroke-width="0.9"/>
<text transform="translate(399.00,594.54)" font-size="6.5" text-anchor="end" fill="#555" stroke="#555" stroke-width="0.2">3</text>
<line x1="402.00" y1="616.40" x2="405.30" y2="616.40" stroke="#2b2b2b" stroke-width="0.9"/>
<text transform="translate(399.00,618.74)" font-size="6.5" text-anchor="end" fill="#555" stroke="#555" stroke-width="0.2">2</text>
<line x1="402.00" y1="640.60" x2="405.30" y2="640.60" stroke="#2b2b2b" stroke-width="0.9"/>
<text transform="translate(399.00,642.94)" font-size="6.5" text-anchor="end" fill="#555" stroke="#555" stroke-width="0.2">1</text>
<line x1="402.00" y1="664.70" x2="405.30" y2="664.70" stroke="#2b2b2b" stroke-width="0.9"/>
<text transform="translate(399.00,667.04)" font-size="6.5" text-anchor="end" fill="#555" stroke="#555" stroke-width="0.2">0</text>
<line x1="404.70" y1="664.70" x2="470.30" y2="664.70" stroke="#2b2b2b" stroke-width="1.4"/>
<line x1="420.50" y1="664.70" x2="420.50" y2="667.80" stroke="#2b2b2b" stroke-width="0.9"/>
<line x1="454.80" y1="664.70" x2="454.80" y2="667.80" stroke="#2b2b2b" stroke-width="0.9"/>
<text transform="translate(419.70,677.55)" font-size="6.8" text-anchor="middle" fill="#333" stroke="#333" stroke-width="0.2">CD4</text>
<text transform="translate(453.30,677.55)" font-size="6.8" text-anchor="middle" fill="#333" stroke="#333" stroke-width="0.2">CD8</text>
<text transform="translate(379.30,618.80) rotate(-90)" font-size="8.9" text-anchor="middle" fill="#333" stroke="#333" stroke-width="0.2" textLength="62.4" lengthAdjust="spacingAndGlyphs">Number of CD3<tspan dy="-3.0" font-size="5.5">+</tspan><tspan dy="3.0">CAR</tspan><tspan dy="-3.0" font-size="5.5">+</tspan><tspan dy="3.0">/</tspan></text>
<text transform="translate(390.40,614.70) rotate(-90)" font-size="8.9" text-anchor="middle" fill="#333" stroke="#333" stroke-width="0.2" textLength="31.7" lengthAdjust="spacingAndGlyphs">BM (×10<tspan dy="-3.0" font-size="5.5">3</tspan><tspan dy="3.0">)</tspan></text>
<circle cx="329.50" cy="686.60" r="1.3" fill="#1d3f6e"/>
<text transform="translate(334.70,688.90)" font-size="6.4" text-anchor="start" fill="#333" stroke="#333" stroke-width="0.2" textLength="34.6" lengthAdjust="spacingAndGlyphs"><tspan font-style="italic">Bcma</tspan>-CART</text>
<circle cx="377.00" cy="686.60" r="1.3" fill="#c20a32"/>
<text transform="translate(382.20,688.90)" font-size="6.4" text-anchor="start" fill="#333" stroke="#333" stroke-width="0.2" textLength="54.2" lengthAdjust="spacingAndGlyphs"><tspan font-style="italic">Asct2 Bcma</tspan>-CART</text>
</svg></div></body></html>
